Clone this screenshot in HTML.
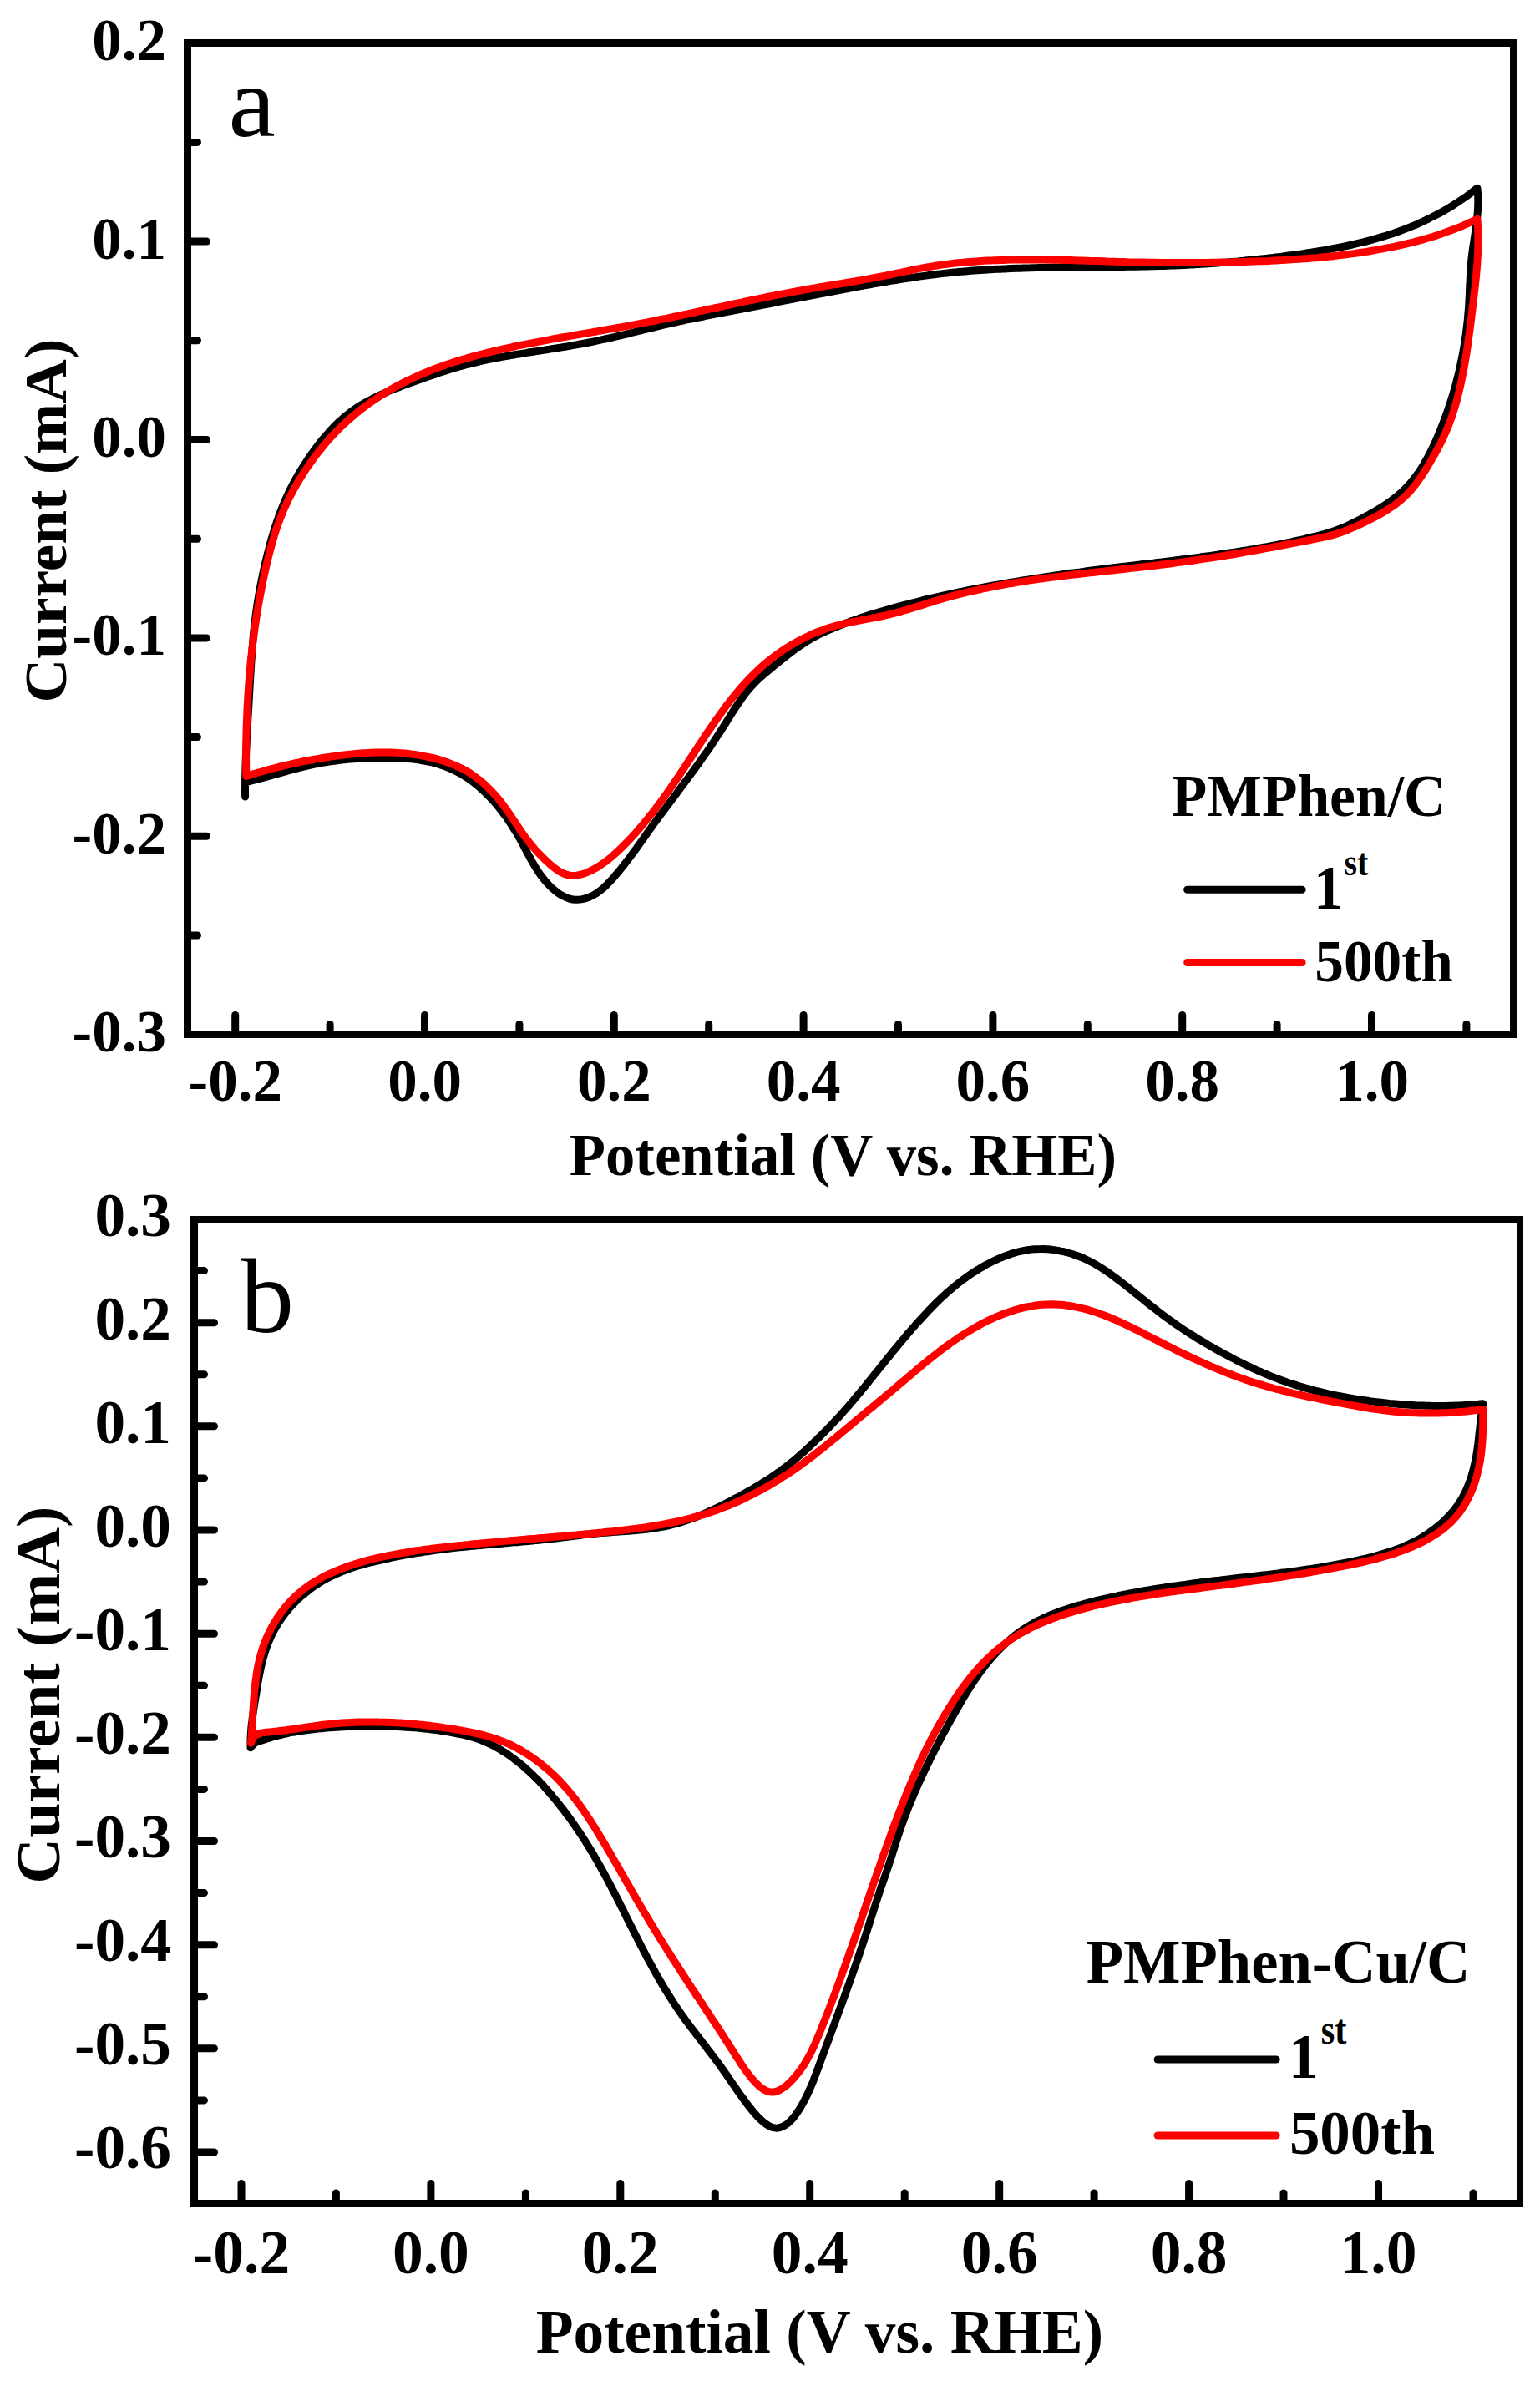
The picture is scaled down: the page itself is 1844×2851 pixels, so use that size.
<!DOCTYPE html><html><head><meta charset="utf-8"><title>CV curves</title><style>html,body{margin:0;padding:0;background:#fff;}svg{display:block;}text{font-family:'Liberation Serif','Times New Roman',serif;font-weight:bold;fill:#000;}text.r{font-weight:normal;}</style></head><body>
<svg width="1844" height="2851" viewBox="0 0 1844 2851">
<rect width="1844" height="2851" fill="#fff"/>
<g stroke="#000" stroke-width="9" stroke-linecap="round"><line x1="281.7" y1="1236" x2="281.7" y2="1215.5"/><line x1="395.1" y1="1236" x2="395.1" y2="1226.5"/><line x1="508.5" y1="1236" x2="508.5" y2="1215.5"/><line x1="621.9" y1="1236" x2="621.9" y2="1226.5"/><line x1="735.3" y1="1236" x2="735.3" y2="1215.5"/><line x1="848.7" y1="1236" x2="848.7" y2="1226.5"/><line x1="962.1" y1="1236" x2="962.1" y2="1215.5"/><line x1="1075.5" y1="1236" x2="1075.5" y2="1226.5"/><line x1="1188.9" y1="1236" x2="1188.9" y2="1215.5"/><line x1="1302.3" y1="1236" x2="1302.3" y2="1226.5"/><line x1="1415.7" y1="1236" x2="1415.7" y2="1215.5"/><line x1="1529.1" y1="1236" x2="1529.1" y2="1226.5"/><line x1="1642.5" y1="1236" x2="1642.5" y2="1215.5"/><line x1="1755.9" y1="1236" x2="1755.9" y2="1226.5"/><line x1="226" y1="1120.0" x2="236.5" y2="1120.0"/><line x1="226" y1="1001.3" x2="247.5" y2="1001.3"/><line x1="226" y1="882.6" x2="236.5" y2="882.6"/><line x1="226" y1="763.9" x2="247.5" y2="763.9"/><line x1="226" y1="645.2" x2="236.5" y2="645.2"/><line x1="226" y1="526.5" x2="247.5" y2="526.5"/><line x1="226" y1="407.8" x2="236.5" y2="407.8"/><line x1="226" y1="289.1" x2="247.5" y2="289.1"/><line x1="226" y1="170.4" x2="236.5" y2="170.4"/></g>
<path d="M220,47h1597v9h-1597z M220,1234h1597v9h-1597z M220,47h9v1196h-9z M1808,47h9v1196h-9z" fill="#000"/>
<text x="199" y="1259.2" text-anchor="end" font-size="71">-0.3</text><text x="199" y="1021.8" text-anchor="end" font-size="71">-0.2</text><text x="199" y="784.4" text-anchor="end" font-size="71">-0.1</text><text x="199" y="547.0" text-anchor="end" font-size="71">0.0</text><text x="199" y="309.6" text-anchor="end" font-size="71">0.1</text><text x="199" y="72.2" text-anchor="end" font-size="71">0.2</text><text x="281.7" y="1318" text-anchor="middle" font-size="71">-0.2</text><text x="508.5" y="1318" text-anchor="middle" font-size="71">0.0</text><text x="735.3" y="1318" text-anchor="middle" font-size="71">0.2</text><text x="962.1" y="1318" text-anchor="middle" font-size="71">0.4</text><text x="1188.9" y="1318" text-anchor="middle" font-size="71">0.6</text><text x="1415.7" y="1318" text-anchor="middle" font-size="71">0.8</text><text x="1642.5" y="1318" text-anchor="middle" font-size="71">1.0</text>
<text x="681.70" y="1407.00" font-size="72.20" textLength="655.31" lengthAdjust="spacingAndGlyphs">Potential (V vs. RHE)</text>
<text transform="translate(79.20,841.59) rotate(-90)" font-size="72.00" textLength="435.92" lengthAdjust="spacingAndGlyphs">Current (mA)</text>
<text class="r" x="273.46" y="162.60" font-size="121.10" textLength="56.30" lengthAdjust="spacingAndGlyphs">a</text>
<text x="1402.72" y="977.00" font-size="72.00" textLength="328.55" lengthAdjust="spacingAndGlyphs">PMPhen/C</text>
<text x="1573.32" y="1088.10" font-size="73.20" textLength="34.24" lengthAdjust="spacingAndGlyphs">1</text>
<text x="1609.61" y="1048.45" font-size="45.50" textLength="28.66" lengthAdjust="spacingAndGlyphs">st</text>
<text x="1574.23" y="1174.60" font-size="72.20" textLength="165.73" lengthAdjust="spacingAndGlyphs">500th</text>
<line x1="1421.7" y1="1065.3" x2="1559.1" y2="1065.3" stroke="#000" stroke-width="9" stroke-linecap="round"/>
<line x1="1421.7" y1="1152.5" x2="1559.1" y2="1152.5" stroke="#f00" stroke-width="9" stroke-linecap="round"/>
<path d="M293.6,954.0C293.6,952.7 293.5,948.7 293.5,946.0C293.5,943.3 293.6,940.6 293.6,938.0C293.6,935.3 293.6,932.6 293.7,930.0C293.7,927.3 293.8,924.6 293.9,922.0C294.0,919.3 294.0,916.6 294.1,913.9C294.2,911.3 294.3,908.6 294.4,905.9C294.6,903.3 294.7,900.6 294.8,897.9C294.9,895.3 295.1,892.6 295.2,889.9C295.3,887.3 295.5,884.6 295.6,881.9C295.8,879.3 295.9,876.6 296.1,873.9C296.2,871.2 296.4,868.6 296.6,865.9C296.7,863.2 296.9,860.6 297.0,857.9C297.2,855.2 297.4,852.6 297.5,849.9C297.7,847.2 297.8,844.6 298.0,841.9C298.1,839.2 298.3,836.6 298.4,833.9C298.6,831.2 298.7,828.6 298.9,825.9C299.0,823.2 299.2,820.6 299.3,817.9C299.5,815.3 299.7,812.6 299.8,809.9C300.0,807.3 300.1,804.6 300.3,801.9C300.5,799.3 300.6,796.6 300.8,793.9C301.0,791.3 301.2,788.6 301.4,786.0C301.6,783.3 301.8,780.6 302.0,778.0C302.2,775.3 302.4,772.7 302.6,770.0C302.8,767.4 303.1,764.7 303.3,762.0C303.6,759.4 303.9,756.7 304.1,754.1C304.4,751.4 304.7,748.8 305.0,746.1C305.3,743.5 305.6,740.8 306.0,738.2C306.3,735.5 306.7,732.9 307.1,730.2C307.4,727.6 307.8,724.9 308.2,722.3C308.6,719.6 309.1,717.0 309.5,714.4C310.0,711.7 310.4,709.1 310.9,706.4C311.4,703.8 311.9,701.2 312.4,698.6C312.9,695.9 313.4,693.3 314.0,690.7C314.5,688.1 315.1,685.4 315.7,682.8C316.2,680.2 316.8,677.6 317.4,675.0C318.1,672.4 318.7,669.8 319.3,667.2C320.0,664.6 320.6,662.0 321.3,659.4C322.0,656.9 322.6,654.3 323.3,651.7C324.0,649.1 324.8,646.6 325.5,644.0C326.3,641.5 327.0,638.9 327.8,636.4C328.6,633.8 329.4,631.3 330.2,628.8C331.0,626.3 331.9,623.7 332.8,621.2C333.7,618.7 334.6,616.2 335.5,613.8C336.4,611.3 337.4,608.8 338.4,606.3C339.4,603.9 340.4,601.4 341.5,599.0C342.5,596.6 343.6,594.1 344.8,591.7C345.9,589.3 347.1,586.9 348.3,584.5C349.5,582.1 350.7,579.8 352.0,577.4C353.2,575.0 354.6,572.7 355.9,570.4C357.2,568.1 358.6,565.7 360.0,563.4C361.4,561.1 362.8,558.9 364.3,556.6C365.8,554.3 367.3,552.1 368.8,549.8C370.3,547.6 371.8,545.4 373.4,543.2C374.9,541.0 376.5,538.8 378.1,536.6C379.7,534.5 381.4,532.3 383.0,530.2C384.7,528.1 386.4,526.0 388.1,524.0C389.8,521.9 391.6,519.9 393.4,517.9C395.1,515.9 396.9,514.0 398.8,512.0C400.6,510.1 402.5,508.3 404.4,506.4C406.4,504.6 408.3,502.8 410.3,501.1C412.3,499.3 414.3,497.6 416.4,496.0C418.5,494.4 420.6,492.8 422.8,491.3C424.9,489.7 427.1,488.3 429.3,486.8C431.6,485.4 433.8,484.0 436.1,482.7C438.4,481.4 440.8,480.1 443.1,478.9C445.5,477.6 447.9,476.4 450.3,475.3C452.7,474.1 455.1,473.0 457.5,471.9C460.0,470.8 462.4,469.7 464.9,468.7C467.4,467.6 469.9,466.6 472.4,465.6C474.9,464.7 477.4,463.7 479.9,462.7C482.5,461.8 485.0,460.8 487.5,459.9C490.0,459.0 492.6,458.1 495.1,457.2C497.7,456.3 500.2,455.4 502.7,454.5C505.3,453.6 507.8,452.7 510.3,451.8C512.8,450.9 515.4,450.0 517.9,449.2C520.4,448.3 523.0,447.4 525.5,446.6C528.0,445.7 530.5,444.9 533.1,444.1C535.6,443.3 538.2,442.5 540.7,441.7C543.2,440.9 545.8,440.2 548.4,439.4C550.9,438.7 553.5,438.0 556.0,437.3C558.6,436.6 561.2,436.0 563.8,435.3C566.3,434.7 568.9,434.1 571.5,433.5C574.1,432.9 576.7,432.3 579.3,431.7C581.9,431.2 584.5,430.6 587.1,430.1C589.7,429.6 592.3,429.0 595.0,428.5C597.6,428.0 600.2,427.6 602.8,427.1C605.5,426.6 608.1,426.1 610.7,425.7C613.3,425.2 616.0,424.8 618.6,424.4C621.2,423.9 623.9,423.5 626.5,423.1C629.2,422.7 631.8,422.2 634.4,421.8C637.1,421.4 639.7,421.0 642.4,420.6C645.0,420.2 647.7,419.8 650.3,419.4C653.0,419.0 655.6,418.6 658.2,418.1C660.9,417.7 663.5,417.3 666.2,416.9C668.8,416.5 671.5,416.1 674.1,415.6C676.7,415.2 679.4,414.8 682.0,414.3C684.6,413.9 687.3,413.4 689.9,412.9C692.5,412.5 695.2,412.0 697.8,411.5C700.4,411.0 703.0,410.5 705.7,410.0C708.3,409.5 710.9,409.0 713.5,408.4C716.1,407.9 718.7,407.3 721.3,406.7C723.9,406.2 726.5,405.6 729.1,405.0C731.7,404.4 734.3,403.8 736.9,403.2C739.5,402.6 742.1,402.0 744.7,401.3C747.3,400.7 749.9,400.1 752.5,399.5C755.1,398.8 757.7,398.2 760.3,397.5C762.9,396.9 765.4,396.3 768.0,395.6C770.6,395.0 773.2,394.3 775.8,393.7C778.4,393.1 781.0,392.4 783.6,391.8C786.2,391.2 788.8,390.5 791.4,389.9C794.0,389.3 796.6,388.7 799.2,388.1C801.8,387.5 804.4,386.9 807.0,386.3C809.6,385.7 812.2,385.1 814.8,384.6C817.4,384.0 820.0,383.5 822.6,382.9C825.3,382.4 827.9,381.9 830.5,381.3C833.1,380.8 835.7,380.3 838.4,379.8C841.0,379.3 843.6,378.7 846.2,378.2C848.9,377.7 851.5,377.2 854.1,376.7C856.8,376.2 859.4,375.7 862.0,375.2C864.6,374.7 867.3,374.2 869.9,373.7C872.5,373.2 875.1,372.7 877.8,372.2C880.4,371.7 883.0,371.2 885.6,370.7C888.2,370.1 890.9,369.6 893.5,369.1C896.1,368.6 898.7,368.1 901.3,367.6C904.0,367.1 906.6,366.6 909.2,366.1C911.8,365.5 914.4,365.0 917.1,364.5C919.7,364.0 922.3,363.5 924.9,363.0C927.5,362.5 930.2,362.0 932.8,361.4C935.4,360.9 938.0,360.4 940.6,359.9C943.2,359.4 945.9,358.9 948.5,358.4C951.1,357.9 953.7,357.3 956.3,356.8C959.0,356.3 961.6,355.8 964.2,355.3C966.8,354.8 969.4,354.3 972.0,353.8C974.7,353.3 977.3,352.8 979.9,352.3C982.5,351.8 985.1,351.3 987.8,350.8C990.4,350.3 993.0,349.8 995.6,349.3C998.3,348.8 1000.9,348.3 1003.5,347.8C1006.1,347.3 1008.8,346.8 1011.4,346.3C1014.0,345.8 1016.6,345.3 1019.3,344.8C1021.9,344.3 1024.5,343.9 1027.1,343.4C1029.8,342.9 1032.4,342.4 1035.0,341.9C1037.7,341.5 1040.3,341.0 1042.9,340.5C1045.6,340.1 1048.2,339.6 1050.8,339.1C1053.5,338.7 1056.1,338.2 1058.7,337.8C1061.4,337.3 1064.0,336.9 1066.7,336.4C1069.3,336.0 1071.9,335.6 1074.6,335.2C1077.2,334.7 1079.8,334.3 1082.5,333.9C1085.1,333.5 1087.8,333.1 1090.4,332.7C1093.1,332.3 1095.7,331.9 1098.4,331.5C1101.0,331.1 1103.6,330.8 1106.3,330.4C1108.9,330.0 1111.6,329.7 1114.2,329.3C1116.9,329.0 1119.5,328.7 1122.2,328.3C1124.8,328.0 1127.5,327.7 1130.1,327.4C1132.8,327.1 1135.4,326.8 1138.1,326.5C1140.8,326.2 1143.4,326.0 1146.1,325.7C1148.7,325.5 1151.4,325.2 1154.0,325.0C1156.7,324.8 1159.3,324.5 1162.0,324.3C1164.7,324.1 1167.3,323.9 1170.0,323.7C1172.6,323.5 1175.3,323.3 1178.0,323.2C1180.6,323.0 1183.3,322.8 1185.9,322.7C1188.6,322.5 1191.3,322.4 1193.9,322.3C1196.6,322.1 1199.3,322.0 1201.9,321.9C1204.6,321.8 1207.3,321.6 1209.9,321.5C1212.6,321.4 1215.3,321.3 1217.9,321.2C1220.6,321.2 1223.3,321.1 1225.9,321.0C1228.6,320.9 1231.3,320.8 1233.9,320.8C1236.6,320.7 1239.3,320.6 1241.9,320.6C1244.6,320.5 1247.3,320.5 1249.9,320.4C1252.6,320.4 1255.3,320.3 1258.0,320.3C1260.6,320.2 1263.3,320.2 1266.0,320.2C1268.6,320.1 1271.3,320.1 1274.0,320.1C1276.7,320.0 1279.3,320.0 1282.0,320.0C1284.7,320.0 1287.3,319.9 1290.0,319.9C1292.7,319.9 1295.4,319.9 1298.0,319.8C1300.7,319.8 1303.4,319.8 1306.1,319.8C1308.7,319.8 1311.4,319.7 1314.1,319.7C1316.7,319.7 1319.4,319.7 1322.1,319.7C1324.8,319.6 1327.4,319.6 1330.1,319.6C1332.8,319.6 1335.5,319.5 1338.1,319.5C1340.8,319.5 1343.5,319.5 1346.1,319.4C1348.8,319.4 1351.5,319.3 1354.2,319.3C1356.8,319.3 1359.5,319.2 1362.2,319.2C1364.8,319.1 1367.5,319.1 1370.2,319.0C1372.9,319.0 1375.5,318.9 1378.2,318.8C1380.9,318.8 1383.5,318.7 1386.2,318.6C1388.9,318.5 1391.6,318.5 1394.2,318.4C1396.9,318.3 1399.6,318.2 1402.2,318.1C1404.9,318.0 1407.6,317.9 1410.2,317.7C1412.9,317.6 1415.6,317.5 1418.2,317.4C1420.9,317.2 1423.6,317.1 1426.2,317.0C1428.9,316.8 1431.6,316.7 1434.2,316.5C1436.9,316.3 1439.6,316.2 1442.2,316.0C1444.9,315.8 1447.6,315.7 1450.2,315.5C1452.9,315.3 1455.6,315.1 1458.2,314.9C1460.9,314.7 1463.5,314.5 1466.2,314.3C1468.9,314.1 1471.5,313.8 1474.2,313.6C1476.8,313.4 1479.5,313.1 1482.2,312.9C1484.8,312.6 1487.5,312.4 1490.1,312.1C1492.8,311.9 1495.5,311.6 1498.1,311.3C1500.8,311.1 1503.4,310.8 1506.1,310.5C1508.7,310.2 1511.4,309.9 1514.0,309.6C1516.7,309.3 1519.4,309.0 1522.0,308.7C1524.7,308.4 1527.3,308.1 1530.0,307.7C1532.6,307.4 1535.3,307.1 1537.9,306.7C1540.6,306.4 1543.2,306.0 1545.9,305.6C1548.5,305.3 1551.2,304.9 1553.8,304.5C1556.4,304.2 1559.1,303.8 1561.7,303.4C1564.4,303.0 1567.0,302.6 1569.7,302.2C1572.3,301.8 1574.9,301.4 1577.6,300.9C1580.2,300.5 1582.9,300.1 1585.5,299.6C1588.1,299.1 1590.7,298.7 1593.4,298.2C1596.0,297.7 1598.6,297.2 1601.2,296.7C1603.9,296.2 1606.5,295.7 1609.1,295.1C1611.7,294.6 1614.3,294.1 1616.9,293.5C1619.5,292.9 1622.1,292.3 1624.7,291.7C1627.3,291.1 1629.9,290.5 1632.5,289.8C1635.1,289.2 1637.7,288.5 1640.2,287.8C1642.8,287.1 1645.4,286.4 1647.9,285.7C1650.5,285.0 1653.1,284.2 1655.6,283.4C1658.1,282.7 1660.7,281.9 1663.2,281.0C1665.8,280.2 1668.3,279.4 1670.8,278.5C1673.3,277.6 1675.8,276.7 1678.3,275.8C1680.8,274.9 1683.3,273.9 1685.8,272.9C1688.3,271.9 1690.8,270.9 1693.3,269.9C1695.7,268.8 1698.2,267.8 1700.6,266.7C1703.1,265.6 1705.5,264.5 1707.9,263.3C1710.3,262.1 1712.8,261.0 1715.1,259.7C1717.5,258.5 1719.9,257.3 1722.3,256.0C1724.6,254.8 1727.0,253.5 1729.3,252.1C1731.6,250.8 1733.9,249.5 1736.2,248.1C1738.5,246.7 1740.8,245.3 1743.0,243.8C1745.3,242.4 1747.5,240.9 1749.7,239.4C1751.9,237.9 1754.1,236.4 1756.3,234.9C1758.4,233.3 1760.6,231.7 1762.7,230.1C1764.8,228.5 1767.9,226.0 1768.9,225.2L1768.9,225.2C1769.0,226.5 1769.5,230.6 1769.6,233.2C1769.8,235.9 1769.8,238.6 1769.8,241.3C1769.8,243.9 1769.7,246.6 1769.6,249.3C1769.5,251.9 1769.3,254.6 1769.0,257.3C1768.8,259.9 1768.5,262.6 1768.2,265.2C1767.9,267.9 1767.5,270.5 1767.2,273.2C1766.8,275.8 1766.4,278.5 1766.0,281.1C1765.6,283.8 1765.2,286.4 1764.8,289.1C1764.4,291.7 1764.0,294.4 1763.6,297.0C1763.2,299.7 1762.9,302.3 1762.6,305.0C1762.2,307.6 1761.9,310.3 1761.7,312.9C1761.4,315.6 1761.2,318.2 1761.0,320.9C1760.8,323.5 1760.6,326.2 1760.5,328.8C1760.3,331.5 1760.2,334.2 1760.1,336.8C1759.9,339.5 1759.8,342.1 1759.7,344.8C1759.6,347.5 1759.5,350.1 1759.4,352.8C1759.2,355.4 1759.1,358.1 1759.0,360.8C1758.8,363.4 1758.7,366.1 1758.5,368.8C1758.3,371.4 1758.1,374.1 1757.8,376.8C1757.6,379.4 1757.4,382.1 1757.1,384.8C1756.8,387.4 1756.5,390.1 1756.2,392.8C1755.9,395.4 1755.5,398.1 1755.2,400.8C1754.8,403.4 1754.4,406.1 1754.0,408.7C1753.6,411.4 1753.2,414.0 1752.7,416.7C1752.3,419.3 1751.8,421.9 1751.3,424.6C1750.8,427.2 1750.3,429.8 1749.7,432.4C1749.2,435.1 1748.6,437.7 1748.1,440.3C1747.5,442.9 1746.9,445.5 1746.3,448.0C1745.6,450.6 1745.0,453.2 1744.3,455.8C1743.7,458.3 1743.0,460.9 1742.3,463.5C1741.5,466.0 1740.8,468.6 1740.1,471.1C1739.3,473.6 1738.5,476.2 1737.7,478.7C1736.9,481.2 1736.1,483.8 1735.3,486.3C1734.4,488.8 1733.6,491.3 1732.7,493.8C1731.8,496.3 1730.9,498.8 1730.0,501.3C1729.0,503.8 1728.1,506.3 1727.1,508.8C1726.1,511.3 1725.1,513.8 1724.1,516.3C1723.1,518.7 1722.1,521.2 1721.0,523.7C1719.9,526.2 1718.8,528.7 1717.7,531.1C1716.6,533.6 1715.4,536.0 1714.2,538.4C1713.0,540.9 1711.8,543.3 1710.6,545.7C1709.3,548.0 1708.0,550.4 1706.7,552.7C1705.4,555.1 1704.0,557.4 1702.6,559.6C1701.1,561.9 1699.7,564.1 1698.2,566.3C1696.6,568.5 1695.1,570.6 1693.5,572.7C1691.8,574.8 1690.2,576.9 1688.4,578.9C1686.7,580.9 1684.9,582.8 1683.1,584.7C1681.2,586.6 1679.3,588.4 1677.4,590.2C1675.4,592.0 1673.4,593.7 1671.3,595.4C1669.2,597.0 1667.1,598.6 1664.9,600.2C1662.8,601.7 1660.5,603.3 1658.3,604.7C1656.1,606.2 1653.8,607.6 1651.5,609.0C1649.2,610.4 1646.9,611.8 1644.5,613.1C1642.2,614.5 1639.8,615.8 1637.5,617.1C1635.1,618.3 1632.8,619.6 1630.4,620.9C1628.0,622.1 1625.7,623.3 1623.3,624.5C1620.9,625.7 1618.5,626.9 1616.1,628.0C1613.7,629.2 1611.3,630.3 1608.9,631.3C1606.5,632.3 1604.0,633.3 1601.5,634.3C1599.1,635.2 1596.6,636.1 1594.0,636.9C1591.5,637.7 1588.9,638.5 1586.4,639.2C1583.8,640.0 1581.2,640.6 1578.6,641.3C1576.0,642.0 1573.4,642.6 1570.8,643.2C1568.2,643.9 1565.6,644.5 1563.0,645.1C1560.4,645.7 1557.8,646.3 1555.2,646.9C1552.6,647.5 1549.9,648.0 1547.3,648.6C1544.7,649.1 1542.1,649.7 1539.5,650.2C1536.9,650.8 1534.2,651.3 1531.6,651.8C1529.0,652.3 1526.4,652.8 1523.7,653.3C1521.1,653.8 1518.5,654.3 1515.9,654.8C1513.2,655.3 1510.6,655.8 1508.0,656.2C1505.3,656.7 1502.7,657.1 1500.1,657.6C1497.5,658.0 1494.8,658.5 1492.2,658.9C1489.6,659.3 1486.9,659.8 1484.3,660.2C1481.6,660.6 1479.0,661.0 1476.4,661.4C1473.7,661.8 1471.1,662.2 1468.4,662.6C1465.8,663.0 1463.2,663.4 1460.5,663.8C1457.9,664.2 1455.2,664.5 1452.6,664.9C1450.0,665.3 1447.3,665.7 1444.7,666.0C1442.0,666.4 1439.4,666.7 1436.7,667.1C1434.1,667.4 1431.4,667.8 1428.8,668.1C1426.1,668.5 1423.5,668.8 1420.8,669.2C1418.2,669.5 1415.5,669.8 1412.9,670.2C1410.2,670.5 1407.6,670.8 1404.9,671.2C1402.3,671.5 1399.6,671.8 1397.0,672.1C1394.3,672.5 1391.7,672.8 1389.0,673.1C1386.4,673.4 1383.7,673.7 1381.1,674.1C1378.4,674.4 1375.8,674.7 1373.1,675.0C1370.5,675.3 1367.8,675.6 1365.2,676.0C1362.5,676.3 1359.9,676.6 1357.2,676.9C1354.6,677.2 1351.9,677.6 1349.3,677.9C1346.6,678.2 1343.9,678.5 1341.3,678.8C1338.6,679.2 1336.0,679.5 1333.3,679.8C1330.7,680.1 1328.0,680.5 1325.4,680.8C1322.7,681.1 1320.1,681.5 1317.4,681.8C1314.8,682.1 1312.1,682.5 1309.5,682.8C1306.8,683.1 1304.2,683.5 1301.5,683.8C1298.9,684.2 1296.2,684.5 1293.6,684.9C1291.0,685.2 1288.3,685.6 1285.7,685.9C1283.0,686.3 1280.4,686.7 1277.7,687.0C1275.1,687.4 1272.4,687.8 1269.8,688.1C1267.1,688.5 1264.5,688.9 1261.9,689.3C1259.2,689.7 1256.6,690.0 1253.9,690.4C1251.3,690.8 1248.7,691.2 1246.0,691.6C1243.4,692.0 1240.7,692.4 1238.1,692.8C1235.5,693.2 1232.8,693.7 1230.2,694.1C1227.5,694.5 1224.9,694.9 1222.3,695.3C1219.6,695.8 1217.0,696.2 1214.4,696.6C1211.7,697.1 1209.1,697.5 1206.5,698.0C1203.9,698.4 1201.2,698.9 1198.6,699.3C1196.0,699.8 1193.3,700.3 1190.7,700.7C1188.1,701.2 1185.5,701.7 1182.8,702.2C1180.2,702.7 1177.6,703.2 1175.0,703.7C1172.4,704.2 1169.7,704.7 1167.1,705.2C1164.5,705.7 1161.9,706.2 1159.3,706.7C1156.6,707.3 1154.0,707.8 1151.4,708.3C1148.8,708.9 1146.2,709.4 1143.6,710.0C1141.0,710.5 1138.4,711.1 1135.8,711.7C1133.1,712.2 1130.5,712.8 1127.9,713.4C1125.3,714.0 1122.7,714.6 1120.1,715.2C1117.5,715.8 1114.9,716.4 1112.3,717.0C1109.7,717.6 1107.1,718.2 1104.5,718.9C1101.9,719.5 1099.3,720.2 1096.8,720.8C1094.2,721.5 1091.6,722.1 1089.0,722.8C1086.4,723.5 1083.8,724.1 1081.2,724.8C1078.6,725.5 1076.1,726.2 1073.5,726.9C1070.9,727.6 1068.3,728.3 1065.7,729.1C1063.2,729.8 1060.6,730.5 1058.0,731.3C1055.4,732.0 1052.9,732.8 1050.3,733.5C1047.8,734.3 1045.2,735.1 1042.6,735.9C1040.1,736.7 1037.5,737.5 1035.0,738.4C1032.4,739.2 1029.9,740.0 1027.4,740.9C1024.9,741.8 1022.3,742.6 1019.8,743.5C1017.3,744.4 1014.8,745.4 1012.3,746.3C1009.8,747.2 1007.3,748.2 1004.8,749.2C1002.3,750.1 999.9,751.2 997.4,752.2C995.0,753.2 992.5,754.3 990.1,755.4C987.7,756.5 985.3,757.6 982.9,758.8C980.5,760.0 978.1,761.2 975.8,762.4C973.5,763.7 971.2,765.0 968.9,766.4C966.6,767.7 964.3,769.1 962.1,770.6C959.9,772.1 957.7,773.6 955.5,775.1C953.3,776.6 951.2,778.2 949.0,779.8C946.9,781.4 944.7,783.1 942.6,784.7C940.5,786.4 938.4,788.1 936.3,789.7C934.2,791.4 932.1,793.1 930.0,794.8C927.9,796.5 925.8,798.2 923.7,799.9C921.6,801.6 919.5,803.3 917.5,805.0C915.4,806.7 913.4,808.5 911.4,810.3C909.4,812.0 907.4,813.8 905.5,815.7C903.6,817.6 901.8,819.5 900.1,821.5C898.3,823.4 896.6,825.4 894.9,827.5C893.2,829.6 891.6,831.7 890.0,833.8C888.5,835.9 886.9,838.1 885.4,840.3C883.9,842.4 882.4,844.7 880.9,846.9C879.5,849.1 878.0,851.4 876.6,853.6C875.1,855.9 873.7,858.2 872.3,860.4C870.9,862.7 869.5,865.0 868.1,867.3C866.6,869.5 865.2,871.8 863.8,874.1C862.3,876.3 860.9,878.6 859.4,880.8C857.9,883.0 856.5,885.3 855.0,887.5C853.5,889.7 852.0,891.9 850.5,894.2C849.0,896.4 847.5,898.6 845.9,900.8C844.4,903.0 842.9,905.1 841.3,907.3C839.8,909.5 838.2,911.7 836.7,913.9C835.1,916.0 833.5,918.2 832.0,920.4C830.4,922.5 828.8,924.7 827.3,926.8C825.7,929.0 824.1,931.1 822.5,933.3C820.9,935.4 819.3,937.6 817.7,939.7C816.1,941.9 814.6,944.0 813.0,946.1C811.4,948.3 809.8,950.4 808.2,952.6C806.6,954.7 805.0,956.8 803.4,959.0C801.8,961.1 800.2,963.2 798.6,965.4C797.0,967.5 795.4,969.7 793.8,971.8C792.2,973.9 790.6,976.1 789.1,978.2C787.5,980.4 785.9,982.5 784.3,984.7C782.7,986.8 781.2,989.0 779.6,991.1C778.0,993.3 776.5,995.5 774.9,997.6C773.4,999.8 771.8,1002.0 770.3,1004.2C768.8,1006.3 767.2,1008.5 765.7,1010.7C764.1,1012.8 762.6,1015.0 761.0,1017.2C759.4,1019.3 757.9,1021.5 756.3,1023.6C754.7,1025.8 753.1,1027.9 751.5,1030.1C749.9,1032.2 748.3,1034.3 746.6,1036.4C744.9,1038.5 743.3,1040.6 741.6,1042.7C739.8,1044.7 738.1,1046.8 736.3,1048.8C734.6,1050.9 732.8,1052.9 730.9,1054.9C729.1,1056.8 727.2,1058.8 725.3,1060.7C723.3,1062.5 721.3,1064.4 719.2,1066.0C717.1,1067.7 714.9,1069.3 712.6,1070.7C710.3,1072.0 707.8,1073.3 705.3,1074.3C702.8,1075.3 700.1,1076.1 697.5,1076.6C694.9,1077.1 692.2,1077.4 689.6,1077.3C687.0,1077.2 684.4,1076.8 681.9,1076.1C679.3,1075.4 676.9,1074.3 674.5,1073.1C672.1,1071.9 669.8,1070.4 667.6,1068.8C665.3,1067.2 663.2,1065.3 661.1,1063.5C659.1,1061.6 657.1,1059.5 655.2,1057.5C653.4,1055.4 651.6,1053.3 650.0,1051.2C648.3,1049.1 646.7,1046.9 645.2,1044.7C643.7,1042.5 642.3,1040.3 640.9,1038.0C639.5,1035.8 638.2,1033.5 636.9,1031.3C635.6,1029.0 634.4,1026.7 633.2,1024.4C631.9,1022.1 630.7,1019.8 629.5,1017.4C628.2,1015.1 627.0,1012.8 625.8,1010.5C624.5,1008.1 623.3,1005.8 621.9,1003.5C620.6,1001.2 619.3,998.9 617.9,996.5C616.5,994.2 615.1,992.0 613.6,989.7C612.2,987.4 610.7,985.1 609.2,982.9C607.6,980.7 606.1,978.4 604.5,976.2C602.9,974.1 601.2,971.9 599.5,969.7C597.9,967.6 596.2,965.5 594.4,963.4C592.7,961.4 590.9,959.3 589.1,957.3C587.2,955.3 585.4,953.4 583.5,951.5C581.6,949.6 579.7,947.7 577.7,945.9C575.7,944.1 573.7,942.3 571.7,940.6C569.7,938.9 567.6,937.3 565.5,935.7C563.4,934.1 561.2,932.6 559.0,931.1C556.8,929.7 554.6,928.3 552.4,927.0C550.1,925.6 547.8,924.4 545.5,923.2C543.1,922.0 540.8,921.0 538.3,919.9C535.9,918.9 533.5,918.0 531.0,917.1C528.5,916.2 526.0,915.5 523.5,914.7C521.0,914.0 518.4,913.3 515.8,912.7C513.2,912.2 510.6,911.6 508.0,911.1C505.4,910.7 502.7,910.2 500.1,909.9C497.4,909.5 494.7,909.2 492.0,908.9C489.3,908.6 486.6,908.4 483.9,908.2C481.2,908.0 478.5,907.9 475.8,907.7C473.1,907.6 470.4,907.6 467.6,907.5C464.9,907.4 462.2,907.4 459.5,907.4C456.8,907.4 454.1,907.4 451.4,907.5C448.7,907.5 446.0,907.6 443.3,907.6C440.7,907.7 438.0,907.8 435.3,908.0C432.6,908.1 430.0,908.2 427.3,908.4C424.7,908.6 422.0,908.8 419.4,909.0C416.7,909.2 414.1,909.5 411.4,909.8C408.8,910.1 406.2,910.4 403.5,910.7C400.9,911.0 398.3,911.4 395.7,911.8C393.0,912.2 390.4,912.6 387.8,913.1C385.2,913.5 382.6,914.0 380.0,914.5C377.3,915.0 374.7,915.6 372.1,916.1C369.5,916.7 366.9,917.3 364.3,917.9C361.7,918.6 359.1,919.2 356.5,919.9C353.9,920.6 351.3,921.2 348.7,921.9C346.1,922.6 343.5,923.4 340.9,924.1C338.3,924.8 335.7,925.5 333.1,926.3C330.6,927.0 328.0,927.7 325.4,928.4C322.8,929.2 320.2,929.9 317.6,930.6C315.1,931.3 312.5,932.0 309.9,932.7C307.3,933.4 304.8,934.0 302.2,934.7C299.6,935.3 295.8,936.2 294.5,936.5" fill="none" stroke="#000" stroke-width="9" stroke-linejoin="round" stroke-linecap="round"/>
<path d="M294.8,929.5C294.8,928.2 294.7,924.1 294.7,921.5C294.7,918.8 294.7,916.1 294.6,913.4C294.6,910.8 294.6,908.1 294.6,905.4C294.6,902.7 294.7,900.1 294.7,897.4C294.7,894.7 294.7,892.0 294.8,889.3C294.8,886.7 294.9,884.0 294.9,881.3C295.0,878.6 295.1,876.0 295.1,873.3C295.2,870.6 295.3,867.9 295.4,865.2C295.5,862.6 295.6,859.9 295.7,857.2C295.8,854.5 295.9,851.9 296.0,849.2C296.2,846.5 296.3,843.8 296.5,841.2C296.6,838.5 296.8,835.8 296.9,833.1C297.1,830.5 297.3,827.8 297.5,825.1C297.6,822.5 297.8,819.8 298.0,817.1C298.2,814.4 298.5,811.8 298.7,809.1C298.9,806.4 299.1,803.8 299.4,801.1C299.6,798.4 299.9,795.8 300.2,793.1C300.4,790.4 300.7,787.8 301.0,785.1C301.3,782.5 301.6,779.8 301.9,777.1C302.2,774.5 302.5,771.8 302.8,769.2C303.2,766.5 303.5,763.9 303.9,761.2C304.2,758.6 304.6,755.9 304.9,753.3C305.3,750.6 305.7,748.0 306.1,745.3C306.5,742.7 306.9,740.0 307.3,737.4C307.7,734.7 308.2,732.1 308.6,729.4C309.0,726.8 309.5,724.2 310.0,721.5C310.4,718.9 310.9,716.3 311.4,713.6C311.9,711.0 312.4,708.4 312.9,705.7C313.4,703.1 313.9,700.5 314.4,697.9C315.0,695.2 315.5,692.6 316.1,690.0C316.6,687.4 317.2,684.8 317.8,682.2C318.4,679.6 319.0,676.9 319.6,674.3C320.2,671.7 320.9,669.1 321.5,666.5C322.2,663.9 322.8,661.4 323.5,658.8C324.2,656.2 324.9,653.6 325.6,651.0C326.3,648.5 327.1,645.9 327.8,643.3C328.6,640.8 329.4,638.2 330.2,635.7C331.1,633.1 331.9,630.6 332.8,628.1C333.7,625.6 334.6,623.1 335.6,620.6C336.6,618.1 337.6,615.6 338.6,613.1C339.6,610.7 340.7,608.2 341.8,605.8C342.9,603.4 344.1,600.9 345.3,598.5C346.4,596.1 347.6,593.7 348.9,591.4C350.1,589.0 351.4,586.6 352.7,584.3C354.0,582.0 355.3,579.6 356.7,577.3C358.1,575.0 359.4,572.7 360.9,570.5C362.3,568.2 363.7,565.9 365.2,563.7C366.7,561.5 368.2,559.2 369.7,557.0C371.2,554.8 372.8,552.7 374.3,550.5C375.9,548.3 377.5,546.2 379.1,544.1C380.8,541.9 382.4,539.8 384.1,537.8C385.8,535.7 387.5,533.6 389.2,531.6C391.0,529.6 392.7,527.5 394.5,525.6C396.3,523.6 398.1,521.6 399.9,519.7C401.8,517.7 403.6,515.8 405.5,513.9C407.4,512.0 409.3,510.2 411.3,508.3C413.2,506.5 415.2,504.7 417.2,502.9C419.2,501.1 421.2,499.4 423.2,497.6C425.3,495.9 427.4,494.2 429.5,492.5C431.6,490.9 433.7,489.2 435.8,487.6C438.0,486.0 440.1,484.4 442.3,482.9C444.5,481.3 446.7,479.8 448.9,478.3C451.2,476.8 453.4,475.3 455.7,473.9C457.9,472.4 460.2,471.0 462.5,469.6C464.8,468.2 467.1,466.9 469.5,465.5C471.8,464.2 474.2,462.9 476.5,461.6C478.9,460.4 481.3,459.1 483.6,457.9C486.0,456.7 488.4,455.5 490.9,454.4C493.3,453.2 495.7,452.1 498.1,451.0C500.6,449.9 503.0,448.8 505.5,447.7C507.9,446.7 510.4,445.7 512.9,444.7C515.3,443.7 517.8,442.7 520.3,441.7C522.8,440.8 525.3,439.9 527.8,439.0C530.3,438.1 532.9,437.2 535.4,436.3C537.9,435.4 540.5,434.6 543.0,433.8C545.5,433.0 548.1,432.2 550.6,431.4C553.2,430.6 555.8,429.8 558.3,429.1C560.9,428.3 563.5,427.6 566.0,426.9C568.6,426.2 571.2,425.5 573.8,424.8C576.4,424.1 579.0,423.5 581.6,422.8C584.2,422.2 586.8,421.5 589.4,420.9C592.0,420.3 594.6,419.7 597.2,419.1C599.8,418.5 602.4,417.9 605.0,417.3C607.6,416.7 610.2,416.1 612.9,415.6C615.5,415.0 618.1,414.5 620.7,413.9C623.3,413.4 626.0,412.9 628.6,412.3C631.2,411.8 633.8,411.3 636.5,410.8C639.1,410.3 641.7,409.8 644.3,409.3C647.0,408.8 649.6,408.3 652.2,407.8C654.9,407.3 657.5,406.8 660.1,406.3C662.8,405.9 665.4,405.4 668.0,404.9C670.7,404.5 673.3,404.0 675.9,403.5C678.6,403.1 681.2,402.6 683.9,402.1C686.5,401.7 689.1,401.2 691.8,400.8C694.4,400.3 697.0,399.9 699.7,399.4C702.3,399.0 705.0,398.5 707.6,398.1C710.2,397.6 712.9,397.1 715.5,396.7C718.2,396.2 720.8,395.8 723.4,395.3C726.1,394.9 728.7,394.4 731.3,393.9C734.0,393.5 736.6,393.0 739.3,392.5C741.9,392.1 744.5,391.6 747.2,391.1C749.8,390.6 752.4,390.2 755.1,389.7C757.7,389.2 760.3,388.7 763.0,388.2C765.6,387.7 768.2,387.2 770.8,386.7C773.5,386.2 776.1,385.6 778.7,385.1C781.4,384.6 784.0,384.1 786.6,383.5C789.2,383.0 791.9,382.5 794.5,381.9C797.1,381.4 799.7,380.9 802.4,380.3C805.0,379.8 807.6,379.2 810.2,378.7C812.8,378.1 815.5,377.6 818.1,377.0C820.7,376.4 823.3,375.9 825.9,375.3C828.6,374.8 831.2,374.2 833.8,373.6C836.4,373.1 839.0,372.5 841.7,371.9C844.3,371.4 846.9,370.8 849.5,370.2C852.1,369.7 854.8,369.1 857.4,368.5C860.0,368.0 862.6,367.4 865.2,366.8C867.8,366.3 870.5,365.7 873.1,365.1C875.7,364.6 878.3,364.0 880.9,363.5C883.6,362.9 886.2,362.3 888.8,361.8C891.4,361.2 894.0,360.7 896.6,360.1C899.3,359.6 901.9,359.0 904.5,358.5C907.1,357.9 909.7,357.4 912.4,356.8C915.0,356.3 917.6,355.8 920.2,355.2C922.9,354.7 925.5,354.2 928.1,353.7C930.7,353.1 933.3,352.6 936.0,352.1C938.6,351.6 941.2,351.1 943.8,350.6C946.5,350.1 949.1,349.6 951.7,349.1C954.4,348.6 957.0,348.1 959.6,347.7C962.2,347.2 964.9,346.7 967.5,346.3C970.1,345.8 972.8,345.3 975.4,344.9C978.0,344.4 980.7,344.0 983.3,343.5C985.9,343.1 988.6,342.7 991.2,342.2C993.8,341.8 996.5,341.4 999.1,340.9C1001.8,340.5 1004.4,340.1 1007.0,339.6C1009.7,339.2 1012.3,338.7 1015.0,338.3C1017.6,337.9 1020.2,337.4 1022.9,337.0C1025.5,336.5 1028.1,336.1 1030.8,335.6C1033.4,335.1 1036.1,334.7 1038.7,334.2C1041.3,333.7 1044.0,333.2 1046.6,332.7C1049.3,332.2 1051.9,331.7 1054.5,331.2C1057.2,330.7 1059.8,330.2 1062.4,329.6C1065.1,329.1 1067.7,328.5 1070.3,328.0C1073.0,327.4 1075.6,326.8 1078.3,326.3C1080.9,325.7 1083.5,325.1 1086.2,324.6C1088.8,324.0 1091.4,323.4 1094.1,322.9C1096.7,322.4 1099.3,321.8 1102.0,321.4C1104.6,320.9 1107.3,320.4 1109.9,319.9C1112.6,319.5 1115.2,319.0 1117.8,318.6C1120.5,318.2 1123.1,317.8 1125.8,317.4C1128.4,317.1 1131.1,316.7 1133.7,316.4C1136.4,316.0 1139.0,315.7 1141.7,315.4C1144.4,315.1 1147.0,314.8 1149.7,314.6C1152.3,314.3 1155.0,314.1 1157.6,313.8C1160.3,313.6 1163.0,313.4 1165.6,313.2C1168.3,313.0 1170.9,312.8 1173.6,312.6C1176.3,312.4 1178.9,312.3 1181.6,312.1C1184.3,312.0 1186.9,311.9 1189.6,311.8C1192.2,311.6 1194.9,311.5 1197.6,311.4C1200.3,311.4 1202.9,311.3 1205.6,311.2C1208.3,311.1 1210.9,311.1 1213.6,311.0C1216.3,311.0 1218.9,311.0 1221.6,310.9C1224.3,310.9 1227.0,310.9 1229.6,310.9C1232.3,310.9 1235.0,310.9 1237.7,310.9C1240.3,310.9 1243.0,310.9 1245.7,310.9C1248.4,311.0 1251.0,311.0 1253.7,311.0C1256.4,311.1 1259.1,311.1 1261.7,311.2C1264.4,311.2 1267.1,311.3 1269.8,311.3C1272.4,311.4 1275.1,311.4 1277.8,311.5C1280.5,311.6 1283.2,311.6 1285.8,311.7C1288.5,311.8 1291.2,311.9 1293.9,311.9C1296.5,312.0 1299.2,312.1 1301.9,312.2C1304.6,312.3 1307.3,312.4 1309.9,312.4C1312.6,312.5 1315.3,312.6 1318.0,312.7C1320.7,312.8 1323.3,312.9 1326.0,313.0C1328.7,313.0 1331.4,313.1 1334.0,313.2C1336.7,313.3 1339.4,313.4 1342.1,313.4C1344.8,313.5 1347.4,313.6 1350.1,313.7C1352.8,313.7 1355.5,313.8 1358.1,313.9C1360.8,313.9 1363.5,314.0 1366.2,314.0C1368.9,314.1 1371.5,314.1 1374.2,314.2C1376.9,314.2 1379.6,314.3 1382.2,314.3C1384.9,314.4 1387.6,314.4 1390.3,314.4C1392.9,314.4 1395.6,314.5 1398.3,314.5C1401.0,314.5 1403.6,314.5 1406.3,314.5C1409.0,314.6 1411.7,314.6 1414.3,314.6C1417.0,314.6 1419.7,314.6 1422.3,314.6C1425.0,314.6 1427.7,314.5 1430.4,314.5C1433.0,314.5 1435.7,314.5 1438.4,314.5C1441.1,314.5 1443.7,314.4 1446.4,314.4C1449.1,314.4 1451.8,314.3 1454.4,314.3C1457.1,314.2 1459.8,314.2 1462.5,314.1C1465.1,314.1 1467.8,314.0 1470.5,314.0C1473.2,313.9 1475.8,313.9 1478.5,313.8C1481.2,313.7 1483.9,313.6 1486.5,313.6C1489.2,313.5 1491.9,313.4 1494.6,313.3C1497.2,313.2 1499.9,313.1 1502.6,313.0C1505.3,312.9 1507.9,312.8 1510.6,312.7C1513.3,312.6 1516.0,312.5 1518.6,312.4C1521.3,312.2 1524.0,312.1 1526.7,312.0C1529.4,311.9 1532.0,311.7 1534.7,311.6C1537.4,311.4 1540.1,311.3 1542.7,311.1C1545.4,310.9 1548.1,310.8 1550.8,310.6C1553.4,310.4 1556.1,310.2 1558.8,310.0C1561.5,309.8 1564.1,309.6 1566.8,309.4C1569.5,309.2 1572.1,309.0 1574.8,308.8C1577.5,308.5 1580.1,308.3 1582.8,308.0C1585.5,307.8 1588.1,307.5 1590.8,307.2C1593.5,307.0 1596.1,306.7 1598.8,306.4C1601.5,306.1 1604.1,305.8 1606.8,305.4C1609.4,305.1 1612.1,304.8 1614.8,304.4C1617.4,304.1 1620.1,303.7 1622.7,303.4C1625.4,303.0 1628.0,302.6 1630.7,302.2C1633.3,301.8 1636.0,301.4 1638.6,301.0C1641.2,300.5 1643.9,300.1 1646.5,299.6C1649.2,299.2 1651.8,298.7 1654.4,298.2C1657.1,297.7 1659.7,297.2 1662.3,296.7C1665.0,296.2 1667.6,295.6 1670.2,295.1C1672.8,294.5 1675.5,293.9 1678.1,293.3C1680.7,292.8 1683.3,292.1 1685.9,291.5C1688.5,290.9 1691.1,290.2 1693.7,289.6C1696.3,288.9 1698.9,288.2 1701.5,287.5C1704.0,286.8 1706.6,286.1 1709.2,285.3C1711.7,284.5 1714.3,283.8 1716.9,283.0C1719.4,282.2 1721.9,281.3 1724.5,280.5C1727.0,279.6 1729.5,278.7 1732.0,277.8C1734.6,276.9 1737.1,276.0 1739.6,275.0C1742.0,274.1 1744.5,273.1 1747.0,272.1C1749.5,271.1 1751.9,270.0 1754.4,269.0C1756.8,267.9 1759.3,266.8 1761.7,265.7C1764.1,264.5 1767.7,262.8 1768.9,262.2L1768.9,262.2C1769.0,263.5 1769.3,267.5 1769.5,270.2C1769.6,272.9 1769.7,275.5 1769.8,278.2C1769.8,280.8 1769.9,283.5 1769.9,286.2C1769.9,288.8 1769.9,291.5 1769.8,294.2C1769.8,296.8 1769.7,299.5 1769.6,302.2C1769.4,304.8 1769.3,307.5 1769.1,310.2C1769.0,312.8 1768.8,315.5 1768.6,318.1C1768.4,320.8 1768.2,323.5 1767.9,326.1C1767.7,328.8 1767.5,331.4 1767.2,334.1C1766.9,336.8 1766.6,339.4 1766.3,342.1C1766.1,344.7 1765.8,347.4 1765.4,350.1C1765.1,352.7 1764.8,355.4 1764.5,358.0C1764.2,360.7 1763.9,363.3 1763.5,366.0C1763.2,368.6 1762.9,371.3 1762.6,373.9C1762.2,376.6 1761.9,379.2 1761.6,381.9C1761.3,384.5 1760.9,387.2 1760.6,389.8C1760.3,392.5 1759.9,395.1 1759.6,397.7C1759.2,400.4 1758.9,403.0 1758.5,405.7C1758.1,408.3 1757.8,410.9 1757.4,413.6C1757.0,416.2 1756.6,418.8 1756.2,421.5C1755.8,424.1 1755.4,426.7 1754.9,429.4C1754.5,432.0 1754.0,434.6 1753.6,437.3C1753.1,439.9 1752.6,442.5 1752.1,445.1C1751.6,447.8 1751.1,450.4 1750.6,453.0C1750.1,455.6 1749.5,458.2 1748.9,460.8C1748.3,463.4 1747.7,466.1 1747.1,468.6C1746.5,471.2 1745.8,473.8 1745.2,476.4C1744.5,479.0 1743.8,481.6 1743.0,484.1C1742.3,486.7 1741.5,489.3 1740.7,491.8C1739.9,494.3 1739.1,496.9 1738.2,499.4C1737.3,501.9 1736.4,504.4 1735.5,506.9C1734.5,509.4 1733.6,511.9 1732.5,514.3C1731.5,516.8 1730.4,519.2 1729.3,521.6C1728.2,524.1 1727.1,526.5 1725.9,528.9C1724.7,531.2 1723.5,533.6 1722.2,536.0C1721.0,538.3 1719.7,540.7 1718.4,543.0C1717.1,545.4 1715.8,547.7 1714.4,550.0C1713.1,552.3 1711.7,554.6 1710.4,556.9C1709.0,559.2 1707.6,561.5 1706.2,563.8C1704.7,566.1 1703.3,568.3 1701.8,570.5C1700.3,572.7 1698.8,574.9 1697.2,577.1C1695.7,579.2 1694.1,581.3 1692.4,583.4C1690.7,585.4 1689.0,587.4 1687.2,589.4C1685.4,591.3 1683.5,593.2 1681.6,595.0C1679.7,596.8 1677.7,598.5 1675.6,600.2C1673.5,601.9 1671.4,603.5 1669.3,605.1C1667.1,606.6 1664.9,608.1 1662.6,609.6C1660.3,611.0 1658.0,612.5 1655.7,613.8C1653.4,615.2 1651.0,616.5 1648.7,617.8C1646.3,619.1 1643.9,620.4 1641.5,621.6C1639.1,622.8 1636.6,624.0 1634.2,625.2C1631.8,626.4 1629.4,627.5 1627.0,628.7C1624.6,629.8 1622.2,630.9 1619.7,632.0C1617.3,633.0 1614.9,634.0 1612.4,635.0C1610.0,636.0 1607.5,636.9 1605.0,637.8C1602.5,638.6 1600.0,639.4 1597.5,640.1C1594.9,640.8 1592.3,641.5 1589.8,642.1C1587.2,642.7 1584.5,643.3 1581.9,643.8C1579.3,644.4 1576.7,644.9 1574.1,645.4C1571.4,646.0 1568.8,646.5 1566.2,647.0C1563.6,647.6 1560.9,648.1 1558.3,648.6C1555.7,649.1 1553.1,649.7 1550.5,650.2C1547.8,650.7 1545.2,651.2 1542.6,651.7C1540.0,652.2 1537.3,652.7 1534.7,653.2C1532.1,653.7 1529.5,654.2 1526.9,654.7C1524.2,655.2 1521.6,655.7 1519.0,656.2C1516.4,656.7 1513.7,657.2 1511.1,657.6C1508.5,658.1 1505.9,658.6 1503.3,659.1C1500.6,659.5 1498.0,660.0 1495.4,660.4C1492.8,660.9 1490.1,661.4 1487.5,661.8C1484.9,662.3 1482.2,662.7 1479.6,663.2C1477.0,663.6 1474.4,664.0 1471.7,664.5C1469.1,664.9 1466.5,665.3 1463.9,665.8C1461.2,666.2 1458.6,666.6 1456.0,667.0C1453.3,667.4 1450.7,667.8 1448.1,668.2C1445.4,668.7 1442.8,669.1 1440.2,669.4C1437.5,669.8 1434.9,670.2 1432.3,670.6C1429.6,671.0 1427.0,671.4 1424.3,671.8C1421.7,672.1 1419.1,672.5 1416.4,672.9C1413.8,673.2 1411.1,673.6 1408.5,673.9C1405.9,674.3 1403.2,674.6 1400.6,675.0C1397.9,675.3 1395.3,675.7 1392.6,676.0C1390.0,676.3 1387.3,676.6 1384.7,677.0C1382.0,677.3 1379.4,677.6 1376.7,677.9C1374.1,678.2 1371.4,678.5 1368.8,678.8C1366.1,679.1 1363.4,679.4 1360.8,679.7C1358.1,680.0 1355.5,680.3 1352.8,680.6C1350.2,680.9 1347.5,681.2 1344.8,681.5C1342.2,681.8 1339.5,682.1 1336.9,682.4C1334.2,682.7 1331.6,683.0 1328.9,683.2C1326.2,683.5 1323.6,683.8 1320.9,684.1C1318.3,684.4 1315.6,684.7 1312.9,685.0C1310.3,685.3 1307.6,685.6 1305.0,685.9C1302.3,686.2 1299.7,686.5 1297.0,686.8C1294.3,687.1 1291.7,687.4 1289.0,687.7C1286.4,688.0 1283.7,688.3 1281.1,688.6C1278.4,688.9 1275.8,689.3 1273.1,689.6C1270.5,689.9 1267.8,690.2 1265.2,690.6C1262.5,690.9 1259.9,691.3 1257.2,691.6C1254.6,692.0 1251.9,692.3 1249.3,692.7C1246.6,693.0 1244.0,693.4 1241.3,693.8C1238.7,694.2 1236.1,694.5 1233.4,694.9C1230.8,695.3 1228.2,695.7 1225.5,696.1C1222.9,696.6 1220.3,697.0 1217.6,697.4C1215.0,697.8 1212.4,698.3 1209.7,698.7C1207.1,699.2 1204.5,699.6 1201.9,700.1C1199.3,700.6 1196.6,701.1 1194.0,701.6C1191.4,702.1 1188.8,702.6 1186.2,703.1C1183.6,703.6 1181.0,704.1 1178.4,704.7C1175.8,705.2 1173.2,705.8 1170.6,706.3C1168.0,706.9 1165.4,707.5 1162.8,708.1C1160.2,708.7 1157.6,709.3 1155.0,709.9C1152.4,710.6 1149.8,711.2 1147.2,711.9C1144.7,712.5 1142.1,713.2 1139.5,713.9C1136.9,714.6 1134.4,715.3 1131.8,716.0C1129.2,716.8 1126.7,717.5 1124.1,718.3C1121.6,719.0 1119.0,719.8 1116.5,720.6C1113.9,721.4 1111.4,722.2 1108.8,723.0C1106.3,723.8 1103.7,724.6 1101.2,725.4C1098.6,726.2 1096.0,727.0 1093.5,727.7C1090.9,728.5 1088.4,729.3 1085.8,730.1C1083.3,730.8 1080.7,731.6 1078.1,732.3C1075.6,733.0 1073.0,733.7 1070.4,734.4C1067.8,735.0 1065.2,735.7 1062.6,736.3C1060.0,736.9 1057.4,737.5 1054.8,738.0C1052.2,738.6 1049.6,739.1 1047.0,739.6C1044.4,740.1 1041.7,740.6 1039.1,741.1C1036.5,741.6 1033.9,742.1 1031.2,742.6C1028.6,743.1 1026.0,743.6 1023.4,744.1C1020.8,744.6 1018.2,745.1 1015.6,745.7C1013.0,746.3 1010.4,746.8 1007.8,747.5C1005.2,748.1 1002.6,748.8 1000.1,749.5C997.5,750.2 994.9,751.0 992.4,751.8C989.9,752.6 987.4,753.5 984.9,754.4C982.3,755.3 979.9,756.3 977.4,757.3C974.9,758.3 972.5,759.4 970.0,760.5C967.6,761.6 965.2,762.7 962.8,763.9C960.4,765.1 958.0,766.3 955.7,767.6C953.3,768.9 951.0,770.2 948.7,771.6C946.4,772.9 944.1,774.3 941.8,775.8C939.6,777.2 937.3,778.7 935.1,780.2C932.9,781.7 930.7,783.3 928.6,784.9C926.5,786.5 924.3,788.1 922.2,789.7C920.2,791.4 918.1,793.1 916.1,794.8C914.0,796.5 912.0,798.3 910.1,800.1C908.1,801.9 906.2,803.7 904.3,805.5C902.4,807.4 900.5,809.3 898.6,811.2C896.8,813.1 894.9,815.0 893.1,817.0C891.3,818.9 889.6,820.9 887.8,822.9C886.1,824.9 884.3,826.9 882.6,829.0C880.9,831.0 879.2,833.1 877.5,835.1C875.9,837.2 874.2,839.3 872.6,841.4C871.0,843.5 869.3,845.7 867.7,847.8C866.1,850.0 864.6,852.1 863.0,854.3C861.4,856.5 859.9,858.6 858.3,860.8C856.8,863.0 855.2,865.2 853.7,867.4C852.2,869.6 850.7,871.9 849.2,874.1C847.7,876.3 846.2,878.5 844.7,880.8C843.2,883.0 841.7,885.2 840.3,887.4C838.8,889.7 837.3,891.9 835.8,894.1C834.4,896.4 832.9,898.6 831.5,900.8C830.0,903.1 828.5,905.3 827.1,907.5C825.6,909.8 824.1,912.0 822.7,914.2C821.2,916.4 819.7,918.6 818.3,920.9C816.8,923.1 815.3,925.3 813.9,927.5C812.4,929.7 810.9,931.9 809.4,934.1C807.9,936.3 806.4,938.5 804.9,940.6C803.4,942.8 801.9,945.0 800.4,947.2C798.8,949.3 797.3,951.5 795.8,953.6C794.2,955.8 792.7,957.9 791.1,960.1C789.5,962.2 787.9,964.3 786.3,966.5C784.7,968.6 783.1,970.7 781.5,972.8C779.8,974.9 778.2,977.0 776.5,979.0C774.9,981.1 773.2,983.2 771.5,985.2C769.8,987.3 768.0,989.3 766.3,991.3C764.6,993.4 762.8,995.4 761.0,997.4C759.2,999.4 757.4,1001.4 755.6,1003.4C753.7,1005.3 751.9,1007.3 750.0,1009.2C748.1,1011.2 746.2,1013.1 744.2,1015.0C742.3,1016.9 740.3,1018.8 738.3,1020.7C736.3,1022.5 734.2,1024.3 732.1,1026.1C730.1,1027.8 728.0,1029.5 725.8,1031.2C723.6,1032.8 721.4,1034.4 719.2,1035.9C716.9,1037.3 714.7,1038.7 712.3,1040.0C710.0,1041.3 707.6,1042.6 705.1,1043.7C702.7,1044.7 700.2,1045.8 697.7,1046.5C695.1,1047.3 692.5,1048.0 690.0,1048.3C687.5,1048.5 684.9,1048.5 682.4,1048.2C679.9,1047.8 677.4,1047.0 675.0,1046.0C672.6,1045.1 670.3,1043.7 668.0,1042.3C665.8,1040.8 663.5,1039.0 661.4,1037.3C659.2,1035.5 657.1,1033.5 655.1,1031.6C653.0,1029.7 651.0,1027.8 649.1,1025.8C647.1,1023.9 645.2,1022.0 643.4,1020.0C641.5,1018.0 639.7,1016.1 638.0,1014.0C636.3,1012.0 634.6,1009.9 633.0,1007.8C631.3,1005.8 629.8,1003.6 628.2,1001.5C626.7,999.3 625.2,997.2 623.7,995.0C622.2,992.8 620.8,990.6 619.3,988.4C617.8,986.2 616.4,984.0 614.9,981.8C613.5,979.6 612.0,977.4 610.5,975.2C609.0,973.0 607.5,970.8 606.0,968.6C604.4,966.5 602.8,964.3 601.2,962.2C599.6,960.1 597.9,958.0 596.2,955.9C594.4,953.9 592.7,951.8 590.9,949.9C589.1,947.9 587.2,945.9 585.3,944.1C583.4,942.2 581.4,940.3 579.5,938.5C577.5,936.8 575.4,935.0 573.3,933.4C571.2,931.7 569.1,930.1 566.9,928.6C564.7,927.1 562.5,925.6 560.2,924.2C557.9,922.9 555.6,921.6 553.2,920.3C550.9,919.1 548.4,918.0 546.0,916.9C543.5,915.8 541.0,914.8 538.5,913.9C536.0,912.9 533.5,912.0 530.9,911.2C528.4,910.4 525.8,909.6 523.2,908.9C520.6,908.2 518.0,907.6 515.4,907.0C512.8,906.4 510.1,905.8 507.5,905.3C504.9,904.8 502.2,904.4 499.6,903.9C497.0,903.5 494.3,903.2 491.7,902.9C489.1,902.5 486.4,902.3 483.8,902.0C481.1,901.8 478.4,901.6 475.8,901.4C473.1,901.3 470.5,901.2 467.8,901.1C465.1,901.0 462.5,901.0 459.8,901.0C457.2,900.9 454.5,901.0 451.8,901.0C449.2,901.1 446.5,901.2 443.8,901.3C441.2,901.4 438.5,901.6 435.8,901.7C433.2,901.9 430.5,902.1 427.8,902.3C425.2,902.6 422.5,902.8 419.8,903.1C417.2,903.4 414.5,903.7 411.9,904.0C409.2,904.3 406.6,904.6 403.9,905.0C401.3,905.3 398.6,905.7 396.0,906.1C393.3,906.5 390.7,906.9 388.0,907.3C385.4,907.7 382.8,908.1 380.2,908.6C377.5,909.1 374.9,909.5 372.3,910.0C369.7,910.5 367.0,911.0 364.4,911.5C361.8,912.0 359.2,912.6 356.6,913.1C354.0,913.7 351.4,914.2 348.8,914.8C346.2,915.4 343.6,916.0 341.0,916.6C338.4,917.2 335.8,917.9 333.3,918.5C330.7,919.2 328.1,919.8 325.5,920.5C322.9,921.2 320.4,921.9 317.8,922.6C315.2,923.3 312.7,924.1 310.1,924.8C307.6,925.6 305.0,926.3 302.4,927.1C299.9,927.9 296.1,929.1 294.8,929.5" fill="none" stroke="#f00" stroke-width="9" stroke-linejoin="round" stroke-linecap="round"/>
<g stroke="#000" stroke-width="9" stroke-linecap="round"><line x1="289.0" y1="2636" x2="289.0" y2="2614.5"/><line x1="402.4" y1="2636" x2="402.4" y2="2626"/><line x1="515.9" y1="2636" x2="515.9" y2="2614.5"/><line x1="629.4" y1="2636" x2="629.4" y2="2626"/><line x1="742.8" y1="2636" x2="742.8" y2="2614.5"/><line x1="856.3" y1="2636" x2="856.3" y2="2626"/><line x1="969.7" y1="2636" x2="969.7" y2="2614.5"/><line x1="1083.2" y1="2636" x2="1083.2" y2="2626"/><line x1="1196.7" y1="2636" x2="1196.7" y2="2614.5"/><line x1="1310.1" y1="2636" x2="1310.1" y2="2626"/><line x1="1423.6" y1="2636" x2="1423.6" y2="2614.5"/><line x1="1537.0" y1="2636" x2="1537.0" y2="2626"/><line x1="1650.5" y1="2636" x2="1650.5" y2="2614.5"/><line x1="1764.0" y1="2636" x2="1764.0" y2="2626"/><line x1="234" y1="2577.0" x2="256.5" y2="2577.0"/><line x1="234" y1="2514.9" x2="244.5" y2="2514.9"/><line x1="234" y1="2452.8" x2="256.5" y2="2452.8"/><line x1="234" y1="2390.8" x2="244.5" y2="2390.8"/><line x1="234" y1="2328.7" x2="256.5" y2="2328.7"/><line x1="234" y1="2266.6" x2="244.5" y2="2266.6"/><line x1="234" y1="2204.5" x2="256.5" y2="2204.5"/><line x1="234" y1="2142.4" x2="244.5" y2="2142.4"/><line x1="234" y1="2080.3" x2="256.5" y2="2080.3"/><line x1="234" y1="2018.3" x2="244.5" y2="2018.3"/><line x1="234" y1="1956.2" x2="256.5" y2="1956.2"/><line x1="234" y1="1894.1" x2="244.5" y2="1894.1"/><line x1="234" y1="1832.0" x2="256.5" y2="1832.0"/><line x1="234" y1="1769.9" x2="244.5" y2="1769.9"/><line x1="234" y1="1707.8" x2="256.5" y2="1707.8"/><line x1="234" y1="1645.7" x2="244.5" y2="1645.7"/><line x1="234" y1="1583.7" x2="256.5" y2="1583.7"/><line x1="234" y1="1521.6" x2="244.5" y2="1521.6"/></g>
<path d="M227,1456h1597v8h-1597z M227,2634h1597v9h-1597z M227,1456h10v1187h-10z M1816,1456h8v1187h-8z" fill="#000"/>
<text x="205" y="2596.4" text-anchor="end" font-size="73.3">-0.6</text><text x="205" y="2472.4" text-anchor="end" font-size="73.3">-0.5</text><text x="205" y="2348.4" text-anchor="end" font-size="73.3">-0.4</text><text x="205" y="2224.4" text-anchor="end" font-size="73.3">-0.3</text><text x="205" y="2100.4" text-anchor="end" font-size="73.3">-0.2</text><text x="205" y="1976.3" text-anchor="end" font-size="73.3">-0.1</text><text x="205" y="1852.3" text-anchor="end" font-size="73.3">0.0</text><text x="205" y="1728.3" text-anchor="end" font-size="73.3">0.1</text><text x="205" y="1604.3" text-anchor="end" font-size="73.3">0.2</text><text x="205" y="1480.3" text-anchor="end" font-size="73.3">0.3</text><text x="289.0" y="2722" text-anchor="middle" font-size="73.5">-0.2</text><text x="515.9" y="2722" text-anchor="middle" font-size="73.5">0.0</text><text x="742.8" y="2722" text-anchor="middle" font-size="73.5">0.2</text><text x="969.7" y="2722" text-anchor="middle" font-size="73.5">0.4</text><text x="1196.7" y="2722" text-anchor="middle" font-size="73.5">0.6</text><text x="1423.6" y="2722" text-anchor="middle" font-size="73.5">0.8</text><text x="1650.5" y="2722" text-anchor="middle" font-size="73.5">1.0</text>
<text x="641.65" y="2817.00" font-size="73.60" textLength="679.56" lengthAdjust="spacingAndGlyphs">Potential (V vs. RHE)</text>
<text transform="translate(71.30,2255.72) rotate(-90)" font-size="74.00" textLength="452.08" lengthAdjust="spacingAndGlyphs">Current (mA)</text>
<text class="r" x="287.90" y="1594.70" font-size="128.00" textLength="64.07" lengthAdjust="spacingAndGlyphs">b</text>
<text x="1300.67" y="2374.00" font-size="73.40" textLength="459.75" lengthAdjust="spacingAndGlyphs">PMPhen-Cu/C</text>
<text x="1543.08" y="2487.90" font-size="75.90" textLength="35.73" lengthAdjust="spacingAndGlyphs">1</text>
<text x="1581.63" y="2447.40" font-size="50.80" textLength="30.65" lengthAdjust="spacingAndGlyphs">st</text>
<text x="1543.88" y="2578.60" font-size="74.00" textLength="174.33" lengthAdjust="spacingAndGlyphs">500th</text>
<line x1="1386.1" y1="2466" x2="1528.1" y2="2466" stroke="#000" stroke-width="9" stroke-linecap="round"/>
<line x1="1386.1" y1="2557" x2="1528.1" y2="2557" stroke="#f00" stroke-width="9" stroke-linecap="round"/>
<path d="M300.0,2092.7C300.0,2091.4 299.9,2087.4 300.0,2084.7C300.0,2082.0 300.1,2079.4 300.3,2076.7C300.4,2074.0 300.7,2071.4 300.9,2068.8C301.1,2066.1 301.4,2063.5 301.8,2060.8C302.1,2058.2 302.4,2055.5 302.8,2052.9C303.2,2050.2 303.6,2047.6 304.0,2045.0C304.4,2042.3 304.8,2039.7 305.3,2037.0C305.7,2034.4 306.1,2031.8 306.6,2029.1C307.0,2026.5 307.4,2023.8 307.9,2021.1C308.3,2018.5 308.7,2015.8 309.2,2013.2C309.7,2010.6 310.1,2007.9 310.6,2005.3C311.1,2002.6 311.7,2000.0 312.3,1997.4C312.8,1994.8 313.4,1992.2 314.1,1989.6C314.7,1987.0 315.4,1984.4 316.2,1981.9C316.9,1979.3 317.7,1976.8 318.6,1974.3C319.5,1971.7 320.4,1969.2 321.4,1966.8C322.4,1964.3 323.5,1961.9 324.6,1959.4C325.7,1957.0 326.9,1954.6 328.2,1952.3C329.4,1949.9 330.8,1947.6 332.1,1945.4C333.5,1943.1 335.0,1940.8 336.5,1938.6C338.0,1936.5 339.6,1934.3 341.2,1932.2C342.9,1930.1 344.6,1928.0 346.3,1926.0C348.1,1924.0 349.9,1922.0 351.8,1920.1C353.7,1918.1 355.6,1916.3 357.5,1914.4C359.5,1912.6 361.5,1910.8 363.6,1909.1C365.6,1907.4 367.8,1905.7 369.9,1904.1C372.0,1902.4 374.2,1900.8 376.5,1899.3C378.7,1897.8 380.9,1896.3 383.2,1894.9C385.5,1893.5 387.8,1892.2 390.2,1890.9C392.5,1889.6 394.9,1888.3 397.3,1887.2C399.7,1886.0 402.2,1884.9 404.6,1883.8C407.1,1882.7 409.6,1881.7 412.0,1880.8C414.5,1879.8 417.0,1878.9 419.6,1878.0C422.1,1877.1 424.6,1876.3 427.2,1875.5C429.8,1874.7 432.3,1874.0 434.9,1873.3C437.5,1872.6 440.1,1871.9 442.7,1871.2C445.2,1870.5 447.9,1869.9 450.5,1869.3C453.1,1868.7 455.7,1868.1 458.3,1867.5C460.9,1866.9 463.5,1866.3 466.1,1865.8C468.7,1865.2 471.4,1864.7 474.0,1864.2C476.6,1863.7 479.2,1863.2 481.8,1862.7C484.5,1862.2 487.1,1861.7 489.7,1861.2C492.4,1860.8 495.0,1860.3 497.6,1859.9C500.3,1859.5 502.9,1859.1 505.5,1858.7C508.2,1858.2 510.8,1857.9 513.5,1857.5C516.1,1857.1 518.8,1856.7 521.4,1856.4C524.1,1856.0 526.7,1855.7 529.4,1855.3C532.0,1855.0 534.7,1854.7 537.3,1854.3C540.0,1854.0 542.6,1853.7 545.3,1853.4C547.9,1853.1 550.6,1852.8 553.2,1852.6C555.9,1852.3 558.6,1852.0 561.2,1851.7C563.9,1851.5 566.5,1851.2 569.2,1851.0C571.9,1850.7 574.5,1850.5 577.2,1850.2C579.8,1850.0 582.5,1849.8 585.2,1849.5C587.8,1849.3 590.5,1849.1 593.2,1848.8C595.8,1848.6 598.5,1848.4 601.1,1848.2C603.8,1847.9 606.5,1847.7 609.1,1847.5C611.8,1847.2 614.5,1847.0 617.1,1846.8C619.8,1846.6 622.4,1846.3 625.1,1846.1C627.8,1845.8 630.4,1845.6 633.1,1845.4C635.7,1845.1 638.4,1844.9 641.0,1844.6C643.7,1844.3 646.4,1844.1 649.0,1843.8C651.7,1843.5 654.3,1843.2 657.0,1842.9C659.6,1842.6 662.3,1842.3 664.9,1842.0C667.5,1841.7 670.2,1841.4 672.8,1841.0C675.5,1840.7 678.1,1840.4 680.8,1840.0C683.4,1839.7 686.1,1839.4 688.7,1839.0C691.3,1838.7 694.0,1838.4 696.6,1838.0C699.3,1837.7 701.9,1837.4 704.6,1837.1C707.3,1836.8 709.9,1836.5 712.6,1836.3C715.2,1836.0 717.9,1835.7 720.6,1835.5C723.3,1835.3 725.9,1835.1 728.6,1834.9C731.3,1834.7 734.0,1834.5 736.7,1834.3C739.4,1834.1 742.0,1833.9 744.7,1833.8C747.4,1833.6 750.1,1833.4 752.8,1833.2C755.5,1833.0 758.1,1832.8 760.8,1832.5C763.5,1832.3 766.2,1832.0 768.8,1831.8C771.5,1831.5 774.1,1831.2 776.8,1830.8C779.4,1830.5 782.1,1830.1 784.7,1829.7C787.3,1829.3 790.0,1828.9 792.6,1828.4C795.2,1827.9 797.8,1827.4 800.4,1826.8C803.0,1826.2 805.5,1825.5 808.1,1824.8C810.6,1824.2 813.2,1823.4 815.7,1822.6C818.3,1821.8 820.8,1821.0 823.3,1820.1C825.8,1819.3 828.3,1818.4 830.8,1817.4C833.3,1816.5 835.8,1815.5 838.2,1814.5C840.7,1813.5 843.1,1812.4 845.6,1811.3C848.0,1810.2 850.5,1809.1 852.9,1808.0C855.3,1806.9 857.8,1805.7 860.2,1804.5C862.6,1803.4 865.0,1802.2 867.4,1801.0C869.8,1799.7 872.2,1798.5 874.6,1797.3C876.9,1796.0 879.3,1794.8 881.7,1793.5C884.1,1792.2 886.4,1791.0 888.8,1789.7C891.1,1788.4 893.5,1787.1 895.8,1785.7C898.1,1784.4 900.4,1783.1 902.8,1781.7C905.1,1780.4 907.4,1779.0 909.6,1777.6C911.9,1776.2 914.2,1774.8 916.4,1773.4C918.7,1771.9 920.9,1770.5 923.2,1769.0C925.4,1767.5 927.6,1766.0 929.8,1764.5C932.0,1763.0 934.1,1761.5 936.3,1759.9C938.4,1758.3 940.5,1756.7 942.6,1755.1C944.8,1753.5 946.8,1751.8 948.9,1750.1C951.0,1748.5 953.0,1746.7 955.0,1745.0C957.0,1743.3 959.0,1741.5 961.0,1739.7C963.0,1738.0 965.0,1736.2 966.9,1734.3C968.9,1732.5 970.8,1730.7 972.8,1728.8C974.7,1727.0 976.6,1725.1 978.5,1723.3C980.4,1721.4 982.3,1719.5 984.2,1717.6C986.1,1715.7 988.0,1713.8 989.9,1711.9C991.8,1710.0 993.6,1708.1 995.5,1706.1C997.3,1704.2 999.1,1702.2 1001.0,1700.3C1002.8,1698.3 1004.6,1696.4 1006.4,1694.4C1008.2,1692.4 1010.0,1690.4 1011.7,1688.4C1013.5,1686.4 1015.2,1684.4 1017.0,1682.4C1018.7,1680.3 1020.5,1678.3 1022.2,1676.3C1023.9,1674.2 1025.6,1672.2 1027.3,1670.1C1029.0,1668.1 1030.7,1666.0 1032.4,1664.0C1034.1,1661.9 1035.8,1659.8 1037.5,1657.8C1039.2,1655.7 1040.8,1653.6 1042.5,1651.5C1044.2,1649.4 1045.9,1647.4 1047.5,1645.3C1049.2,1643.2 1050.9,1641.1 1052.6,1639.0C1054.2,1637.0 1055.9,1634.9 1057.6,1632.8C1059.3,1630.7 1060.9,1628.6 1062.6,1626.5C1064.3,1624.5 1066.0,1622.4 1067.7,1620.3C1069.4,1618.2 1071.1,1616.2 1072.8,1614.1C1074.5,1612.0 1076.2,1610.0 1077.9,1607.9C1079.6,1605.9 1081.3,1603.8 1083.0,1601.8C1084.7,1599.7 1086.5,1597.7 1088.2,1595.7C1090.0,1593.6 1091.7,1591.6 1093.5,1589.6C1095.2,1587.6 1097.0,1585.6 1098.8,1583.6C1100.6,1581.6 1102.3,1579.6 1104.2,1577.7C1106.0,1575.7 1107.8,1573.7 1109.6,1571.8C1111.4,1569.8 1113.3,1567.9 1115.2,1566.0C1117.0,1564.1 1118.9,1562.2 1120.8,1560.3C1122.7,1558.4 1124.6,1556.6 1126.5,1554.8C1128.5,1552.9 1130.4,1551.1 1132.4,1549.3C1134.4,1547.6 1136.4,1545.8 1138.4,1544.1C1140.4,1542.3 1142.5,1540.6 1144.5,1539.0C1146.6,1537.3 1148.7,1535.7 1150.8,1534.0C1152.9,1532.4 1155.1,1530.9 1157.2,1529.3C1159.4,1527.8 1161.6,1526.3 1163.8,1524.8C1166.1,1523.3 1168.3,1521.9 1170.6,1520.4C1172.9,1519.0 1175.2,1517.7 1177.5,1516.3C1179.9,1515.0 1182.2,1513.7 1184.6,1512.5C1187.0,1511.2 1189.5,1510.0 1191.9,1508.9C1194.4,1507.7 1196.9,1506.6 1199.4,1505.6C1201.9,1504.5 1204.4,1503.6 1207.0,1502.7C1209.5,1501.8 1212.1,1500.9 1214.7,1500.2C1217.3,1499.4 1219.9,1498.8 1222.5,1498.2C1225.1,1497.6 1227.7,1497.1 1230.3,1496.7C1233.0,1496.3 1235.6,1496.0 1238.3,1495.8C1240.9,1495.7 1243.6,1495.6 1246.2,1495.6C1248.9,1495.5 1251.5,1495.6 1254.2,1495.8C1256.8,1496.0 1259.5,1496.3 1262.1,1496.6C1264.8,1497.0 1267.4,1497.4 1270.0,1498.0C1272.6,1498.5 1275.2,1499.1 1277.8,1499.8C1280.3,1500.5 1282.9,1501.2 1285.4,1502.1C1288.0,1502.9 1290.5,1503.8 1293.0,1504.8C1295.4,1505.8 1297.9,1506.9 1300.3,1508.0C1302.7,1509.1 1305.1,1510.3 1307.4,1511.6C1309.8,1512.8 1312.1,1514.2 1314.4,1515.5C1316.7,1516.9 1319.0,1518.3 1321.2,1519.8C1323.4,1521.2 1325.7,1522.7 1327.9,1524.3C1330.1,1525.8 1332.2,1527.4 1334.4,1529.0C1336.6,1530.6 1338.7,1532.2 1340.8,1533.8C1343.0,1535.5 1345.1,1537.1 1347.2,1538.8C1349.3,1540.5 1351.4,1542.1 1353.5,1543.8C1355.6,1545.5 1357.7,1547.2 1359.8,1548.8C1361.9,1550.5 1364.0,1552.2 1366.1,1553.9C1368.2,1555.5 1370.2,1557.2 1372.3,1558.9C1374.4,1560.5 1376.5,1562.2 1378.6,1563.8C1380.7,1565.5 1382.8,1567.1 1384.9,1568.7C1387.0,1570.4 1389.1,1572.0 1391.2,1573.6C1393.4,1575.2 1395.5,1576.8 1397.6,1578.4C1399.8,1579.9 1401.9,1581.5 1404.1,1583.0C1406.3,1584.6 1408.5,1586.1 1410.7,1587.6C1412.9,1589.1 1415.1,1590.6 1417.3,1592.1C1419.5,1593.6 1421.8,1595.0 1424.0,1596.5C1426.3,1597.9 1428.5,1599.3 1430.8,1600.7C1433.0,1602.2 1435.3,1603.6 1437.6,1604.9C1439.9,1606.3 1442.2,1607.7 1444.5,1609.0C1446.8,1610.4 1449.1,1611.7 1451.5,1613.1C1453.8,1614.4 1456.1,1615.7 1458.4,1617.0C1460.8,1618.3 1463.1,1619.6 1465.5,1620.9C1467.8,1622.1 1470.2,1623.4 1472.6,1624.6C1474.9,1625.9 1477.3,1627.1 1479.7,1628.4C1482.1,1629.6 1484.4,1630.8 1486.8,1632.0C1489.2,1633.2 1491.6,1634.4 1494.0,1635.5C1496.4,1636.7 1498.9,1637.8 1501.3,1638.9C1503.7,1640.1 1506.1,1641.2 1508.6,1642.2C1511.0,1643.3 1513.5,1644.4 1515.9,1645.4C1518.4,1646.4 1520.9,1647.5 1523.3,1648.5C1525.8,1649.4 1528.3,1650.4 1530.8,1651.3C1533.3,1652.3 1535.8,1653.2 1538.3,1654.1C1540.8,1655.0 1543.4,1655.8 1545.9,1656.7C1548.4,1657.5 1551.0,1658.3 1553.5,1659.1C1556.1,1659.9 1558.6,1660.7 1561.2,1661.4C1563.7,1662.2 1566.3,1662.9 1568.9,1663.6C1571.5,1664.3 1574.1,1665.0 1576.7,1665.6C1579.2,1666.3 1581.8,1666.9 1584.4,1667.5C1587.0,1668.1 1589.7,1668.7 1592.3,1669.3C1594.9,1669.9 1597.5,1670.4 1600.1,1671.0C1602.7,1671.5 1605.4,1672.0 1608.0,1672.5C1610.6,1673.0 1613.3,1673.5 1615.9,1673.9C1618.6,1674.4 1621.2,1674.8 1623.8,1675.3C1626.5,1675.7 1629.1,1676.1 1631.8,1676.5C1634.4,1676.9 1637.1,1677.2 1639.7,1677.6C1642.4,1677.9 1645.0,1678.3 1647.7,1678.6C1650.4,1678.9 1653.0,1679.2 1655.7,1679.5C1658.3,1679.8 1661.0,1680.1 1663.7,1680.4C1666.3,1680.6 1669.0,1680.9 1671.6,1681.1C1674.3,1681.3 1677.0,1681.6 1679.6,1681.8C1682.3,1682.0 1684.9,1682.2 1687.6,1682.3C1690.3,1682.5 1692.9,1682.6 1695.6,1682.8C1698.3,1682.9 1700.9,1683.0 1703.6,1683.1C1706.3,1683.2 1708.9,1683.3 1711.6,1683.3C1714.3,1683.4 1716.9,1683.4 1719.6,1683.5C1722.3,1683.5 1724.9,1683.5 1727.6,1683.5C1730.3,1683.4 1732.9,1683.4 1735.6,1683.3C1738.3,1683.3 1740.9,1683.2 1743.6,1683.1C1746.3,1683.0 1749.0,1682.9 1751.6,1682.7C1754.3,1682.6 1757.0,1682.4 1759.6,1682.2C1762.3,1682.0 1765.0,1681.8 1767.7,1681.6C1770.3,1681.3 1774.4,1680.9 1775.7,1680.8L1775.7,1680.8C1775.5,1682.1 1774.8,1686.1 1774.4,1688.7C1774.1,1691.3 1773.7,1694.0 1773.4,1696.6C1773.1,1699.3 1772.8,1702.0 1772.5,1704.6C1772.2,1707.3 1771.9,1709.9 1771.6,1712.6C1771.3,1715.3 1771.0,1718.0 1770.7,1720.6C1770.4,1723.3 1770.1,1726.0 1769.8,1728.6C1769.4,1731.3 1769.1,1734.0 1768.7,1736.6C1768.3,1739.3 1767.9,1741.9 1767.4,1744.6C1766.9,1747.2 1766.4,1749.9 1765.8,1752.5C1765.2,1755.1 1764.6,1757.7 1763.9,1760.3C1763.2,1762.9 1762.5,1765.5 1761.7,1768.0C1760.9,1770.6 1760.0,1773.1 1759.1,1775.6C1758.2,1778.1 1757.2,1780.5 1756.1,1783.0C1755.0,1785.4 1753.9,1787.8 1752.7,1790.1C1751.5,1792.5 1750.2,1794.8 1748.8,1797.0C1747.4,1799.3 1745.9,1801.5 1744.4,1803.6C1742.8,1805.8 1741.2,1807.9 1739.5,1810.0C1737.7,1812.0 1736.0,1814.0 1734.1,1816.0C1732.2,1817.9 1730.3,1819.8 1728.3,1821.7C1726.4,1823.5 1724.3,1825.3 1722.2,1827.0C1720.1,1828.7 1718.0,1830.4 1715.8,1832.0C1713.6,1833.6 1711.4,1835.2 1709.1,1836.7C1706.8,1838.2 1704.5,1839.6 1702.2,1841.0C1699.9,1842.4 1697.5,1843.7 1695.1,1845.0C1692.7,1846.2 1690.3,1847.4 1687.9,1848.6C1685.5,1849.7 1683.1,1850.8 1680.6,1851.8C1678.1,1852.9 1675.7,1853.8 1673.2,1854.8C1670.7,1855.7 1668.2,1856.6 1665.7,1857.5C1663.1,1858.3 1660.6,1859.2 1658.0,1859.9C1655.5,1860.7 1652.9,1861.5 1650.4,1862.2C1647.8,1862.9 1645.2,1863.6 1642.6,1864.3C1640.1,1864.9 1637.5,1865.5 1634.9,1866.2C1632.3,1866.8 1629.7,1867.4 1627.1,1867.9C1624.5,1868.5 1621.8,1869.1 1619.2,1869.6C1616.6,1870.2 1614.0,1870.7 1611.4,1871.2C1608.8,1871.7 1606.1,1872.3 1603.5,1872.7C1600.9,1873.2 1598.3,1873.7 1595.6,1874.2C1593.0,1874.7 1590.4,1875.1 1587.7,1875.6C1585.1,1876.0 1582.5,1876.4 1579.8,1876.9C1577.2,1877.3 1574.5,1877.7 1571.9,1878.1C1569.3,1878.5 1566.6,1878.9 1564.0,1879.3C1561.3,1879.7 1558.7,1880.1 1556.0,1880.4C1553.4,1880.8 1550.7,1881.2 1548.1,1881.5C1545.4,1881.9 1542.8,1882.3 1540.1,1882.6C1537.5,1882.9 1534.8,1883.3 1532.1,1883.6C1529.5,1884.0 1526.8,1884.3 1524.2,1884.6C1521.5,1884.9 1518.8,1885.3 1516.2,1885.6C1513.5,1885.9 1510.9,1886.2 1508.2,1886.5C1505.5,1886.8 1502.9,1887.1 1500.2,1887.4C1497.6,1887.8 1494.9,1888.1 1492.2,1888.4C1489.6,1888.7 1486.9,1889.0 1484.2,1889.3C1481.6,1889.6 1478.9,1889.9 1476.2,1890.2C1473.6,1890.5 1470.9,1890.8 1468.3,1891.1C1465.6,1891.4 1462.9,1891.7 1460.3,1892.1C1457.6,1892.4 1455.0,1892.7 1452.3,1893.0C1449.6,1893.3 1447.0,1893.7 1444.3,1894.0C1441.7,1894.3 1439.0,1894.6 1436.3,1895.0C1433.7,1895.3 1431.0,1895.7 1428.4,1896.0C1425.7,1896.3 1423.1,1896.7 1420.4,1897.1C1417.8,1897.4 1415.1,1897.8 1412.5,1898.2C1409.8,1898.5 1407.2,1898.9 1404.5,1899.3C1401.9,1899.7 1399.2,1900.1 1396.6,1900.5C1394.0,1900.9 1391.3,1901.3 1388.7,1901.7C1386.0,1902.1 1383.4,1902.5 1380.8,1903.0C1378.1,1903.4 1375.5,1903.8 1372.8,1904.3C1370.2,1904.7 1367.6,1905.2 1364.9,1905.7C1362.3,1906.2 1359.7,1906.6 1357.1,1907.1C1354.4,1907.6 1351.8,1908.1 1349.2,1908.7C1346.6,1909.2 1343.9,1909.7 1341.3,1910.2C1338.7,1910.8 1336.1,1911.3 1333.5,1911.9C1330.9,1912.5 1328.3,1913.1 1325.6,1913.7C1323.0,1914.2 1320.4,1914.9 1317.8,1915.5C1315.2,1916.1 1312.6,1916.7 1310.0,1917.4C1307.4,1918.0 1304.8,1918.7 1302.2,1919.4C1299.6,1920.1 1297.0,1920.8 1294.4,1921.5C1291.9,1922.2 1289.3,1922.9 1286.7,1923.7C1284.2,1924.5 1281.6,1925.3 1279.0,1926.1C1276.5,1926.9 1274.0,1927.8 1271.4,1928.6C1268.9,1929.5 1266.4,1930.4 1263.9,1931.4C1261.4,1932.4 1259.0,1933.3 1256.5,1934.4C1254.1,1935.4 1251.6,1936.5 1249.2,1937.6C1246.8,1938.7 1244.4,1939.9 1242.1,1941.1C1239.7,1942.3 1237.4,1943.6 1235.1,1944.9C1232.8,1946.2 1230.5,1947.6 1228.3,1949.0C1226.0,1950.4 1223.8,1951.9 1221.6,1953.5C1219.4,1955.0 1217.3,1956.6 1215.2,1958.3C1213.1,1960.0 1211.0,1961.7 1209.0,1963.4C1206.9,1965.2 1204.9,1967.0 1202.9,1968.9C1201.0,1970.7 1199.0,1972.6 1197.1,1974.6C1195.2,1976.5 1193.4,1978.5 1191.5,1980.5C1189.7,1982.5 1187.9,1984.5 1186.1,1986.6C1184.4,1988.6 1182.7,1990.7 1181.0,1992.8C1179.3,1994.9 1177.7,1997.1 1176.1,1999.2C1174.4,2001.3 1172.9,2003.5 1171.3,2005.7C1169.8,2007.9 1168.3,2010.0 1166.8,2012.3C1165.3,2014.5 1163.8,2016.7 1162.4,2018.9C1161.0,2021.1 1159.5,2023.4 1158.1,2025.6C1156.7,2027.9 1155.4,2030.2 1154.0,2032.4C1152.6,2034.7 1151.3,2037.0 1149.9,2039.3C1148.6,2041.6 1147.3,2043.9 1146.0,2046.2C1144.6,2048.5 1143.3,2050.8 1142.0,2053.2C1140.7,2055.5 1139.4,2057.8 1138.1,2060.1C1136.8,2062.5 1135.5,2064.8 1134.2,2067.2C1133.0,2069.5 1131.7,2071.9 1130.4,2074.2C1129.1,2076.6 1127.9,2078.9 1126.6,2081.3C1125.4,2083.7 1124.1,2086.0 1122.9,2088.4C1121.6,2090.8 1120.4,2093.2 1119.2,2095.6C1118.0,2098.0 1116.7,2100.4 1115.5,2102.8C1114.3,2105.2 1113.1,2107.6 1112.0,2110.0C1110.8,2112.4 1109.6,2114.8 1108.5,2117.2C1107.3,2119.6 1106.1,2122.1 1105.0,2124.5C1103.9,2126.9 1102.7,2129.4 1101.6,2131.8C1100.5,2134.3 1099.4,2136.7 1098.3,2139.2C1097.2,2141.6 1096.2,2144.1 1095.1,2146.5C1094.1,2149.0 1093.0,2151.5 1092.0,2153.9C1090.9,2156.4 1089.9,2158.9 1088.9,2161.4C1087.9,2163.8 1086.9,2166.3 1086.0,2168.8C1085.0,2171.3 1084.0,2173.8 1083.1,2176.3C1082.2,2178.8 1081.2,2181.3 1080.3,2183.8C1079.4,2186.4 1078.6,2188.9 1077.7,2191.4C1076.8,2193.9 1076.0,2196.4 1075.1,2199.0C1074.3,2201.5 1073.5,2204.0 1072.7,2206.6C1071.9,2209.1 1071.1,2211.6 1070.3,2214.2C1069.5,2216.7 1068.7,2219.3 1067.9,2221.8C1067.1,2224.4 1066.3,2226.9 1065.4,2229.4C1064.6,2232.0 1063.7,2234.5 1062.9,2237.1C1062.0,2239.6 1061.2,2242.1 1060.3,2244.7C1059.4,2247.2 1058.5,2249.7 1057.7,2252.3C1056.8,2254.8 1055.9,2257.3 1055.0,2259.9C1054.2,2262.4 1053.3,2265.0 1052.5,2267.5C1051.6,2270.0 1050.8,2272.6 1050.0,2275.1C1049.1,2277.7 1048.3,2280.2 1047.5,2282.8C1046.7,2285.3 1045.9,2287.9 1045.1,2290.4C1044.3,2292.9 1043.4,2295.5 1042.6,2298.0C1041.8,2300.6 1041.0,2303.1 1040.2,2305.7C1039.4,2308.2 1038.6,2310.8 1037.8,2313.3C1036.9,2315.8 1036.1,2318.4 1035.3,2320.9C1034.5,2323.5 1033.6,2326.0 1032.8,2328.5C1031.9,2331.1 1031.1,2333.6 1030.2,2336.1C1029.4,2338.7 1028.5,2341.2 1027.7,2343.7C1026.8,2346.3 1025.9,2348.8 1025.1,2351.3C1024.2,2353.9 1023.3,2356.4 1022.4,2358.9C1021.5,2361.4 1020.6,2364.0 1019.8,2366.5C1018.9,2369.0 1018.0,2371.5 1017.1,2374.1C1016.2,2376.6 1015.3,2379.1 1014.4,2381.6C1013.4,2384.1 1012.5,2386.7 1011.6,2389.2C1010.7,2391.7 1009.8,2394.2 1008.9,2396.7C1008.0,2399.3 1007.1,2401.8 1006.1,2404.3C1005.2,2406.8 1004.3,2409.3 1003.4,2411.8C1002.4,2414.3 1001.5,2416.9 1000.6,2419.4C999.7,2421.9 998.7,2424.4 997.8,2426.9C996.9,2429.4 996.0,2431.9 995.0,2434.4C994.1,2437.0 993.2,2439.5 992.3,2442.0C991.3,2444.5 990.4,2447.0 989.5,2449.5C988.6,2452.0 987.6,2454.5 986.7,2457.0C985.8,2459.5 984.9,2462.0 984.0,2464.5C983.0,2467.1 982.1,2469.6 981.2,2472.1C980.3,2474.6 979.4,2477.1 978.4,2479.6C977.5,2482.1 976.6,2484.6 975.6,2487.1C974.7,2489.6 973.7,2492.0 972.7,2494.5C971.6,2497.0 970.6,2499.4 969.5,2501.9C968.4,2504.3 967.3,2506.7 966.2,2509.1C965.0,2511.6 963.8,2513.9 962.5,2516.3C961.2,2518.7 959.9,2521.0 958.5,2523.4C957.1,2525.7 955.6,2528.0 954.1,2530.2C952.5,2532.5 950.9,2534.7 949.1,2536.8C947.3,2538.8 945.4,2540.8 943.3,2542.5C941.1,2544.2 938.8,2545.8 936.3,2546.8C933.9,2547.7 931.3,2548.3 928.8,2548.1C926.2,2548.0 923.6,2546.9 921.2,2545.8C918.8,2544.6 916.4,2542.8 914.2,2541.1C912.1,2539.4 910.1,2537.5 908.1,2535.6C906.2,2533.6 904.5,2531.6 902.7,2529.6C901.0,2527.5 899.3,2525.4 897.7,2523.3C896.0,2521.2 894.4,2519.1 892.8,2516.9C891.2,2514.8 889.6,2512.6 888.1,2510.4C886.5,2508.3 885.0,2506.1 883.4,2503.9C881.9,2501.7 880.4,2499.5 878.9,2497.3C877.3,2495.1 875.8,2492.9 874.3,2490.7C872.8,2488.5 871.3,2486.3 869.8,2484.1C868.2,2481.9 866.7,2479.8 865.2,2477.6C863.6,2475.4 862.1,2473.2 860.5,2471.1C858.9,2468.9 857.3,2466.8 855.7,2464.6C854.1,2462.5 852.5,2460.3 850.9,2458.2C849.3,2456.1 847.6,2454.0 846.0,2451.8C844.4,2449.7 842.7,2447.6 841.1,2445.5C839.5,2443.4 837.8,2441.2 836.2,2439.1C834.6,2437.0 832.9,2434.9 831.3,2432.7C829.7,2430.6 828.1,2428.5 826.5,2426.3C824.9,2424.2 823.3,2422.0 821.7,2419.9C820.1,2417.7 818.5,2415.6 817.0,2413.4C815.4,2411.2 813.9,2409.0 812.4,2406.8C810.9,2404.6 809.4,2402.4 807.9,2400.1C806.5,2397.9 805.0,2395.7 803.6,2393.4C802.1,2391.2 800.7,2388.9 799.3,2386.6C797.9,2384.3 796.5,2382.1 795.1,2379.8C793.7,2377.5 792.4,2375.2 791.0,2372.9C789.7,2370.6 788.3,2368.2 787.0,2365.9C785.7,2363.6 784.4,2361.3 783.1,2358.9C781.8,2356.6 780.5,2354.2 779.2,2351.9C777.9,2349.5 776.7,2347.2 775.4,2344.8C774.1,2342.4 772.9,2340.1 771.6,2337.7C770.4,2335.3 769.2,2332.9 767.9,2330.6C766.7,2328.2 765.5,2325.8 764.3,2323.4C763.1,2321.0 761.9,2318.6 760.6,2316.2C759.4,2313.9 758.2,2311.5 757.0,2309.1C755.8,2306.7 754.6,2304.3 753.4,2301.9C752.2,2299.5 751.0,2297.1 749.8,2294.7C748.6,2292.3 747.5,2289.9 746.3,2287.5C745.1,2285.1 743.9,2282.7 742.6,2280.3C741.4,2277.9 740.2,2275.5 739.0,2273.2C737.8,2270.8 736.6,2268.4 735.4,2266.0C734.1,2263.6 732.9,2261.3 731.7,2258.9C730.4,2256.5 729.2,2254.1 727.9,2251.8C726.7,2249.4 725.4,2247.1 724.2,2244.7C722.9,2242.4 721.6,2240.0 720.3,2237.7C719.0,2235.4 717.7,2233.0 716.4,2230.7C715.1,2228.4 713.7,2226.1 712.4,2223.8C711.1,2221.4 709.7,2219.1 708.3,2216.9C706.9,2214.6 705.6,2212.3 704.1,2210.0C702.7,2207.7 701.3,2205.5 699.9,2203.2C698.4,2201.0 697.0,2198.7 695.5,2196.5C694.0,2194.3 692.5,2192.1 691.0,2189.9C689.5,2187.6 688.0,2185.5 686.5,2183.3C684.9,2181.1 683.4,2178.9 681.8,2176.7C680.2,2174.6 678.6,2172.4 677.0,2170.3C675.4,2168.1 673.8,2166.0 672.1,2163.9C670.5,2161.8 668.8,2159.7 667.1,2157.6C665.5,2155.5 663.8,2153.4 662.0,2151.4C660.3,2149.3 658.6,2147.3 656.8,2145.2C655.0,2143.2 653.3,2141.2 651.5,2139.2C649.6,2137.2 647.8,2135.3 646.0,2133.3C644.1,2131.4 642.2,2129.5 640.3,2127.6C638.4,2125.7 636.5,2123.9 634.5,2122.0C632.6,2120.2 630.6,2118.4 628.6,2116.7C626.6,2114.9 624.6,2113.2 622.5,2111.5C620.4,2109.8 618.3,2108.2 616.2,2106.6C614.1,2105.0 611.9,2103.4 609.7,2101.9C607.5,2100.3 605.3,2098.9 603.0,2097.4C600.8,2096.0 598.5,2094.6 596.1,2093.3C593.8,2092.0 591.5,2090.7 589.1,2089.5C586.7,2088.3 584.3,2087.2 581.8,2086.1C579.4,2085.0 576.9,2084.0 574.4,2083.1C571.8,2082.2 569.3,2081.3 566.7,2080.5C564.2,2079.8 561.6,2079.0 559.0,2078.4C556.4,2077.7 553.7,2077.1 551.1,2076.6C548.5,2076.0 545.8,2075.5 543.2,2075.0C540.5,2074.5 537.9,2074.0 535.2,2073.6C532.6,2073.1 529.9,2072.7 527.3,2072.3C524.6,2072.0 522.0,2071.6 519.3,2071.2C516.7,2070.9 514.0,2070.6 511.4,2070.3C508.7,2070.0 506.1,2069.7 503.4,2069.5C500.8,2069.2 498.1,2069.0 495.4,2068.8C492.8,2068.6 490.1,2068.4 487.5,2068.2C484.8,2068.0 482.2,2067.9 479.5,2067.7C476.8,2067.6 474.2,2067.5 471.5,2067.4C468.8,2067.3 466.2,2067.2 463.5,2067.2C460.8,2067.1 458.2,2067.1 455.5,2067.0C452.8,2067.0 450.1,2067.0 447.5,2067.0C444.8,2067.0 442.1,2067.0 439.4,2067.0C436.7,2067.1 434.1,2067.1 431.4,2067.2C428.7,2067.2 426.0,2067.3 423.3,2067.4C420.6,2067.4 417.9,2067.5 415.2,2067.6C412.5,2067.8 409.8,2067.9 407.1,2068.0C404.4,2068.2 401.7,2068.3 399.0,2068.5C396.3,2068.7 393.6,2068.9 391.0,2069.1C388.3,2069.3 385.6,2069.6 382.9,2069.8C380.2,2070.1 377.5,2070.4 374.9,2070.7C372.2,2071.0 369.5,2071.3 366.9,2071.7C364.2,2072.1 361.6,2072.5 358.9,2072.9C356.3,2073.3 353.7,2073.8 351.1,2074.2C348.4,2074.7 345.8,2075.2 343.2,2075.8C340.6,2076.3 338.1,2076.9 335.5,2077.6C332.9,2078.2 330.4,2078.8 327.8,2079.5C325.3,2080.2 322.8,2081.0 320.3,2081.7C317.8,2082.5 315.3,2083.3 312.8,2084.2C310.4,2085.0 307.6,2085.5 305.5,2086.9C303.4,2088.3 300.9,2091.7 300.0,2092.7" fill="none" stroke="#000" stroke-width="9" stroke-linejoin="round" stroke-linecap="round"/>
<path d="M300.5,2087.0C300.6,2085.7 300.9,2081.7 301.1,2079.1C301.3,2076.4 301.5,2073.8 301.7,2071.1C301.8,2068.5 302.0,2065.8 302.2,2063.2C302.3,2060.5 302.5,2057.8 302.6,2055.1C302.8,2052.5 302.9,2049.8 303.1,2047.1C303.3,2044.4 303.4,2041.7 303.6,2039.0C303.8,2036.4 304.0,2033.7 304.2,2031.0C304.4,2028.3 304.7,2025.6 304.9,2022.9C305.2,2020.2 305.5,2017.5 305.8,2014.9C306.1,2012.2 306.5,2009.5 306.9,2006.8C307.2,2004.2 307.7,2001.5 308.1,1998.9C308.6,1996.2 309.1,1993.6 309.7,1991.0C310.3,1988.4 310.9,1985.7 311.6,1983.2C312.3,1980.6 313.0,1978.0 313.9,1975.4C314.7,1972.9 315.6,1970.3 316.5,1967.8C317.5,1965.3 318.5,1962.8 319.5,1960.4C320.6,1957.9 321.8,1955.5 323.0,1953.1C324.2,1950.7 325.4,1948.3 326.7,1946.0C328.1,1943.7 329.5,1941.4 330.9,1939.1C332.3,1936.8 333.8,1934.6 335.4,1932.5C336.9,1930.3 338.6,1928.2 340.2,1926.1C341.9,1924.0 343.6,1922.0 345.4,1920.0C347.2,1918.0 349.0,1916.1 350.9,1914.2C352.7,1912.4 354.7,1910.5 356.7,1908.8C358.6,1907.0 360.7,1905.3 362.7,1903.7C364.8,1902.1 366.9,1900.5 369.1,1899.0C371.3,1897.5 373.5,1896.0 375.7,1894.6C378.0,1893.2 380.3,1891.9 382.6,1890.6C384.9,1889.3 387.2,1888.0 389.6,1886.8C392.0,1885.6 394.4,1884.5 396.9,1883.4C399.3,1882.2 401.8,1881.2 404.3,1880.2C406.8,1879.1 409.3,1878.2 411.8,1877.2C414.4,1876.3 416.9,1875.4 419.5,1874.5C422.1,1873.7 424.7,1872.8 427.3,1872.0C429.9,1871.2 432.5,1870.5 435.1,1869.8C437.7,1869.0 440.3,1868.3 443.0,1867.7C445.6,1867.0 448.3,1866.3 450.9,1865.7C453.5,1865.1 456.2,1864.5 458.8,1863.9C461.4,1863.4 464.1,1862.8 466.7,1862.3C469.3,1861.8 472.0,1861.3 474.6,1860.8C477.3,1860.3 479.9,1859.8 482.5,1859.4C485.2,1858.9 487.8,1858.5 490.4,1858.1C493.1,1857.6 495.7,1857.2 498.3,1856.8C501.0,1856.5 503.6,1856.1 506.3,1855.7C508.9,1855.4 511.5,1855.0 514.2,1854.7C516.8,1854.3 519.5,1854.0 522.1,1853.7C524.7,1853.4 527.4,1853.1 530.0,1852.8C532.7,1852.4 535.3,1852.2 538.0,1851.9C540.6,1851.6 543.3,1851.3 545.9,1851.0C548.6,1850.7 551.2,1850.4 553.9,1850.2C556.5,1849.9 559.2,1849.6 561.8,1849.4C564.5,1849.1 567.1,1848.8 569.8,1848.6C572.4,1848.3 575.1,1848.1 577.7,1847.8C580.4,1847.6 583.1,1847.3 585.7,1847.1C588.4,1846.8 591.0,1846.6 593.7,1846.3C596.4,1846.1 599.0,1845.9 601.7,1845.6C604.4,1845.4 607.0,1845.2 609.7,1844.9C612.3,1844.7 615.0,1844.5 617.7,1844.2C620.3,1844.0 623.0,1843.8 625.7,1843.5C628.3,1843.3 631.0,1843.1 633.7,1842.8C636.4,1842.6 639.0,1842.4 641.7,1842.2C644.4,1841.9 647.0,1841.7 649.7,1841.5C652.4,1841.3 655.0,1841.0 657.7,1840.8C660.4,1840.6 663.1,1840.3 665.7,1840.1C668.4,1839.9 671.1,1839.6 673.8,1839.4C676.4,1839.2 679.1,1838.9 681.8,1838.7C684.5,1838.4 687.1,1838.2 689.8,1838.0C692.5,1837.7 695.1,1837.5 697.8,1837.2C700.5,1837.0 703.2,1836.7 705.8,1836.5C708.5,1836.2 711.2,1835.9 713.9,1835.7C716.5,1835.4 719.2,1835.2 721.9,1834.9C724.6,1834.6 727.2,1834.3 729.9,1834.1C732.6,1833.8 735.3,1833.5 737.9,1833.2C740.6,1832.9 743.3,1832.6 745.9,1832.3C748.6,1832.0 751.3,1831.6 753.9,1831.3C756.6,1831.0 759.3,1830.6 761.9,1830.3C764.6,1829.9 767.2,1829.5 769.9,1829.1C772.5,1828.8 775.2,1828.4 777.8,1827.9C780.5,1827.5 783.1,1827.1 785.8,1826.6C788.4,1826.2 791.0,1825.7 793.7,1825.2C796.3,1824.8 798.9,1824.3 801.5,1823.7C804.1,1823.2 806.8,1822.7 809.4,1822.1C812.0,1821.5 814.6,1820.9 817.2,1820.3C819.8,1819.7 822.3,1819.1 824.9,1818.4C827.5,1817.7 830.1,1817.1 832.6,1816.3C835.2,1815.6 837.8,1814.9 840.3,1814.1C842.9,1813.4 845.4,1812.6 848.0,1811.7C850.5,1810.9 853.0,1810.0 855.5,1809.2C858.0,1808.3 860.6,1807.4 863.1,1806.4C865.6,1805.5 868.0,1804.5 870.5,1803.5C873.0,1802.5 875.5,1801.4 877.9,1800.4C880.4,1799.3 882.9,1798.2 885.3,1797.1C887.7,1796.0 890.2,1794.9 892.6,1793.7C895.0,1792.5 897.4,1791.4 899.8,1790.1C902.2,1788.9 904.6,1787.7 907.0,1786.4C909.3,1785.2 911.7,1783.9 914.0,1782.6C916.4,1781.3 918.7,1779.9 921.0,1778.6C923.4,1777.2 925.7,1775.9 928.0,1774.5C930.3,1773.1 932.6,1771.7 934.8,1770.2C937.1,1768.8 939.3,1767.3 941.6,1765.9C943.8,1764.4 946.1,1762.9 948.3,1761.4C950.5,1759.9 952.7,1758.4 954.9,1756.8C957.1,1755.3 959.2,1753.7 961.4,1752.2C963.5,1750.6 965.7,1749.0 967.8,1747.4C970.0,1745.8 972.1,1744.2 974.2,1742.6C976.3,1740.9 978.4,1739.3 980.5,1737.6C982.6,1736.0 984.7,1734.3 986.8,1732.7C988.9,1731.0 991.0,1729.3 993.0,1727.6C995.1,1726.0 997.2,1724.3 999.3,1722.6C1001.3,1720.9 1003.4,1719.2 1005.4,1717.5C1007.5,1715.7 1009.5,1714.0 1011.6,1712.3C1013.6,1710.6 1015.7,1708.9 1017.7,1707.2C1019.8,1705.4 1021.8,1703.7 1023.9,1702.0C1025.9,1700.3 1028.0,1698.5 1030.0,1696.8C1032.1,1695.1 1034.2,1693.4 1036.2,1691.7C1038.3,1689.9 1040.3,1688.2 1042.4,1686.5C1044.5,1684.8 1046.5,1683.1 1048.6,1681.4C1050.7,1679.6 1052.7,1677.9 1054.8,1676.2C1056.9,1674.5 1058.9,1672.8 1061.0,1671.1C1063.1,1669.4 1065.1,1667.6 1067.2,1665.9C1069.2,1664.2 1071.3,1662.5 1073.3,1660.8C1075.4,1659.0 1077.4,1657.3 1079.5,1655.6C1081.5,1653.8 1083.6,1652.1 1085.6,1650.4C1087.6,1648.6 1089.7,1646.9 1091.7,1645.2C1093.7,1643.5 1095.8,1641.7 1097.8,1640.0C1099.8,1638.3 1101.9,1636.6 1103.9,1634.9C1106.0,1633.2 1108.0,1631.5 1110.1,1629.9C1112.1,1628.2 1114.2,1626.5 1116.3,1624.9C1118.3,1623.2 1120.4,1621.6 1122.5,1620.0C1124.6,1618.4 1126.7,1616.8 1128.8,1615.2C1130.9,1613.6 1133.1,1612.0 1135.2,1610.5C1137.4,1608.9 1139.5,1607.4 1141.7,1605.9C1143.9,1604.4 1146.1,1602.9 1148.3,1601.4C1150.6,1599.9 1152.8,1598.4 1155.1,1597.0C1157.4,1595.6 1159.7,1594.2 1162.0,1592.8C1164.3,1591.4 1166.7,1590.0 1169.1,1588.7C1171.4,1587.4 1173.8,1586.1 1176.2,1584.8C1178.7,1583.6 1181.1,1582.3 1183.5,1581.1C1186.0,1580.0 1188.5,1578.8 1191.0,1577.7C1193.4,1576.6 1195.9,1575.5 1198.5,1574.5C1201.0,1573.5 1203.5,1572.6 1206.0,1571.7C1208.6,1570.7 1211.1,1569.9 1213.7,1569.1C1216.3,1568.3 1218.9,1567.5 1221.4,1566.9C1224.0,1566.2 1226.6,1565.6 1229.2,1565.0C1231.8,1564.5 1234.4,1564.0 1237.1,1563.6C1239.7,1563.1 1242.3,1562.8 1244.9,1562.5C1247.6,1562.3 1250.2,1562.1 1252.8,1561.9C1255.5,1561.8 1258.1,1561.8 1260.7,1561.8C1263.4,1561.9 1266.0,1562.0 1268.6,1562.2C1271.3,1562.4 1273.9,1562.6 1276.5,1563.0C1279.2,1563.3 1281.8,1563.7 1284.4,1564.2C1287.0,1564.7 1289.6,1565.2 1292.3,1565.8C1294.9,1566.4 1297.5,1567.0 1300.1,1567.7C1302.7,1568.4 1305.2,1569.2 1307.8,1570.0C1310.4,1570.8 1312.9,1571.6 1315.5,1572.5C1318.0,1573.4 1320.6,1574.4 1323.1,1575.3C1325.6,1576.3 1328.1,1577.3 1330.6,1578.3C1333.1,1579.4 1335.6,1580.4 1338.1,1581.5C1340.5,1582.6 1343.0,1583.7 1345.4,1584.9C1347.8,1586.0 1350.2,1587.2 1352.6,1588.3C1355.1,1589.5 1357.5,1590.7 1359.8,1591.9C1362.2,1593.1 1364.6,1594.3 1367.0,1595.5C1369.4,1596.8 1371.8,1598.0 1374.1,1599.2C1376.5,1600.5 1378.9,1601.7 1381.3,1602.9C1383.6,1604.1 1386.0,1605.4 1388.4,1606.6C1390.8,1607.8 1393.2,1609.0 1395.5,1610.2C1397.9,1611.4 1400.3,1612.6 1402.7,1613.8C1405.1,1615.0 1407.5,1616.2 1409.9,1617.4C1412.3,1618.6 1414.7,1619.8 1417.1,1620.9C1419.6,1622.1 1422.0,1623.2 1424.4,1624.4C1426.8,1625.5 1429.2,1626.6 1431.7,1627.8C1434.1,1628.9 1436.5,1630.0 1439.0,1631.1C1441.4,1632.2 1443.9,1633.3 1446.3,1634.3C1448.8,1635.4 1451.2,1636.5 1453.7,1637.5C1456.2,1638.5 1458.6,1639.6 1461.1,1640.6C1463.6,1641.6 1466.1,1642.6 1468.5,1643.6C1471.0,1644.6 1473.5,1645.5 1476.0,1646.5C1478.5,1647.4 1481.0,1648.3 1483.5,1649.3C1486.0,1650.2 1488.6,1651.1 1491.1,1651.9C1493.6,1652.8 1496.1,1653.7 1498.7,1654.5C1501.2,1655.3 1503.8,1656.1 1506.3,1656.9C1508.9,1657.7 1511.4,1658.5 1514.0,1659.2C1516.6,1660.0 1519.1,1660.7 1521.7,1661.4C1524.3,1662.2 1526.9,1662.9 1529.5,1663.5C1532.1,1664.2 1534.7,1664.9 1537.3,1665.5C1539.9,1666.2 1542.5,1666.8 1545.1,1667.5C1547.7,1668.1 1550.3,1668.7 1552.9,1669.3C1555.5,1669.9 1558.1,1670.5 1560.8,1671.1C1563.4,1671.6 1566.0,1672.2 1568.6,1672.8C1571.3,1673.3 1573.9,1673.9 1576.5,1674.4C1579.1,1675.0 1581.8,1675.5 1584.4,1676.1C1587.0,1676.6 1589.7,1677.1 1592.3,1677.6C1594.9,1678.2 1597.6,1678.7 1600.2,1679.2C1602.8,1679.7 1605.4,1680.2 1608.1,1680.7C1610.7,1681.2 1613.3,1681.7 1616.0,1682.2C1618.6,1682.7 1621.2,1683.2 1623.9,1683.6C1626.5,1684.1 1629.2,1684.6 1631.8,1685.0C1634.4,1685.4 1637.1,1685.9 1639.7,1686.3C1642.3,1686.7 1645.0,1687.1 1647.6,1687.4C1650.3,1687.8 1652.9,1688.2 1655.6,1688.5C1658.2,1688.8 1660.9,1689.2 1663.5,1689.5C1666.2,1689.8 1668.8,1690.0 1671.5,1690.3C1674.2,1690.5 1676.8,1690.8 1679.5,1691.0C1682.2,1691.2 1684.8,1691.3 1687.5,1691.5C1690.2,1691.6 1692.9,1691.7 1695.5,1691.8C1698.2,1691.9 1700.9,1692.0 1703.6,1692.1C1706.3,1692.1 1708.9,1692.1 1711.6,1692.1C1714.3,1692.1 1717.0,1692.1 1719.7,1692.0C1722.4,1692.0 1725.0,1691.9 1727.7,1691.8C1730.4,1691.7 1733.1,1691.6 1735.8,1691.4C1738.4,1691.3 1741.1,1691.1 1743.8,1690.9C1746.5,1690.7 1749.1,1690.5 1751.8,1690.3C1754.5,1690.0 1757.1,1689.8 1759.8,1689.5C1762.5,1689.2 1765.1,1688.9 1767.8,1688.6C1770.4,1688.2 1774.4,1687.7 1775.7,1687.5L1775.7,1687.5C1775.7,1688.8 1775.8,1692.8 1775.8,1695.5C1775.8,1698.2 1775.8,1700.8 1775.7,1703.5C1775.7,1706.2 1775.7,1708.9 1775.6,1711.5C1775.5,1714.2 1775.4,1716.9 1775.3,1719.5C1775.2,1722.2 1775.0,1724.9 1774.8,1727.5C1774.6,1730.2 1774.4,1732.8 1774.1,1735.5C1773.8,1738.1 1773.5,1740.8 1773.2,1743.4C1772.8,1746.0 1772.4,1748.7 1771.9,1751.3C1771.4,1753.9 1770.9,1756.5 1770.3,1759.1C1769.7,1761.8 1769.1,1764.3 1768.4,1766.9C1767.7,1769.5 1766.9,1772.1 1766.1,1774.7C1765.2,1777.2 1764.3,1779.8 1763.3,1782.3C1762.3,1784.8 1761.3,1787.3 1760.1,1789.7C1759.0,1792.1 1757.8,1794.6 1756.5,1796.9C1755.3,1799.3 1753.9,1801.6 1752.5,1803.9C1751.1,1806.1 1749.6,1808.3 1748.0,1810.5C1746.4,1812.6 1744.8,1814.7 1743.0,1816.7C1741.3,1818.7 1739.5,1820.6 1737.6,1822.5C1735.7,1824.3 1733.7,1826.1 1731.7,1827.8C1729.7,1829.5 1727.6,1831.2 1725.5,1832.8C1723.3,1834.3 1721.1,1835.9 1718.9,1837.3C1716.6,1838.8 1714.4,1840.2 1712.0,1841.5C1709.7,1842.9 1707.3,1844.2 1705.0,1845.4C1702.6,1846.7 1700.2,1847.9 1697.7,1849.0C1695.3,1850.1 1692.8,1851.2 1690.4,1852.3C1687.9,1853.3 1685.4,1854.3 1682.9,1855.3C1680.4,1856.3 1677.9,1857.2 1675.4,1858.1C1672.9,1859.0 1670.3,1859.8 1667.8,1860.7C1665.3,1861.5 1662.7,1862.3 1660.2,1863.0C1657.6,1863.8 1655.1,1864.5 1652.5,1865.2C1649.9,1865.9 1647.3,1866.6 1644.8,1867.3C1642.2,1867.9 1639.6,1868.6 1637.0,1869.2C1634.4,1869.8 1631.8,1870.4 1629.2,1871.0C1626.6,1871.6 1624.0,1872.1 1621.4,1872.7C1618.8,1873.2 1616.2,1873.8 1613.6,1874.3C1610.9,1874.8 1608.3,1875.4 1605.7,1875.9C1603.1,1876.4 1600.5,1876.9 1597.8,1877.4C1595.2,1877.9 1592.6,1878.4 1590.0,1878.9C1587.4,1879.4 1584.7,1879.9 1582.1,1880.3C1579.5,1880.8 1576.8,1881.3 1574.2,1881.7C1571.6,1882.2 1569.0,1882.6 1566.3,1883.1C1563.7,1883.5 1561.1,1884.0 1558.4,1884.4C1555.8,1884.8 1553.2,1885.3 1550.5,1885.7C1547.9,1886.1 1545.2,1886.5 1542.6,1886.9C1540.0,1887.4 1537.3,1887.8 1534.7,1888.2C1532.0,1888.6 1529.4,1889.0 1526.8,1889.4C1524.1,1889.7 1521.5,1890.1 1518.8,1890.5C1516.2,1890.9 1513.5,1891.3 1510.9,1891.7C1508.3,1892.0 1505.6,1892.4 1503.0,1892.8C1500.3,1893.1 1497.7,1893.5 1495.0,1893.9C1492.4,1894.2 1489.7,1894.6 1487.1,1894.9C1484.4,1895.3 1481.8,1895.7 1479.2,1896.0C1476.5,1896.4 1473.9,1896.7 1471.2,1897.1C1468.6,1897.4 1465.9,1897.7 1463.3,1898.1C1460.6,1898.4 1458.0,1898.8 1455.3,1899.1C1452.7,1899.5 1450.0,1899.8 1447.4,1900.1C1444.8,1900.5 1442.1,1900.8 1439.5,1901.2C1436.8,1901.5 1434.2,1901.8 1431.5,1902.2C1428.9,1902.5 1426.3,1902.9 1423.6,1903.2C1421.0,1903.6 1418.3,1903.9 1415.7,1904.3C1413.1,1904.6 1410.4,1905.0 1407.8,1905.3C1405.1,1905.7 1402.5,1906.1 1399.9,1906.4C1397.2,1906.8 1394.6,1907.2 1392.0,1907.6C1389.3,1908.0 1386.7,1908.3 1384.0,1908.7C1381.4,1909.1 1378.8,1909.6 1376.2,1910.0C1373.5,1910.4 1370.9,1910.8 1368.3,1911.2C1365.6,1911.7 1363.0,1912.1 1360.4,1912.6C1357.8,1913.0 1355.1,1913.5 1352.5,1914.0C1349.9,1914.5 1347.3,1914.9 1344.7,1915.5C1342.0,1916.0 1339.4,1916.5 1336.8,1917.0C1334.2,1917.5 1331.6,1918.1 1329.0,1918.6C1326.3,1919.2 1323.7,1919.8 1321.1,1920.4C1318.5,1921.0 1315.9,1921.6 1313.3,1922.2C1310.7,1922.8 1308.1,1923.4 1305.5,1924.1C1302.9,1924.8 1300.3,1925.4 1297.7,1926.1C1295.1,1926.8 1292.5,1927.6 1289.9,1928.3C1287.3,1929.0 1284.8,1929.8 1282.2,1930.6C1279.6,1931.4 1277.1,1932.2 1274.5,1933.0C1272.0,1933.9 1269.4,1934.7 1266.9,1935.6C1264.4,1936.5 1261.8,1937.4 1259.3,1938.4C1256.8,1939.3 1254.4,1940.3 1251.9,1941.3C1249.4,1942.3 1247.0,1943.4 1244.5,1944.5C1242.1,1945.6 1239.7,1946.7 1237.3,1947.8C1234.9,1949.0 1232.6,1950.2 1230.2,1951.4C1227.9,1952.6 1225.5,1953.9 1223.3,1955.2C1221.0,1956.5 1218.7,1957.8 1216.5,1959.2C1214.2,1960.6 1212.0,1962.0 1209.8,1963.5C1207.6,1965.0 1205.5,1966.5 1203.4,1968.1C1201.2,1969.6 1199.2,1971.2 1197.1,1972.9C1195.0,1974.6 1193.0,1976.3 1191.0,1978.0C1189.0,1979.8 1187.1,1981.5 1185.2,1983.4C1183.2,1985.2 1181.3,1987.1 1179.5,1989.0C1177.6,1990.9 1175.7,1992.8 1173.9,1994.8C1172.1,1996.7 1170.3,1998.7 1168.6,2000.8C1166.8,2002.8 1165.1,2004.8 1163.4,2006.9C1161.7,2009.0 1160.0,2011.1 1158.4,2013.3C1156.7,2015.4 1155.1,2017.5 1153.5,2019.7C1151.9,2021.9 1150.3,2024.1 1148.8,2026.3C1147.2,2028.5 1145.7,2030.8 1144.2,2033.0C1142.7,2035.3 1141.2,2037.5 1139.7,2039.8C1138.3,2042.1 1136.8,2044.4 1135.4,2046.6C1134.0,2048.9 1132.6,2051.2 1131.2,2053.5C1129.9,2055.9 1128.5,2058.2 1127.2,2060.5C1125.8,2062.8 1124.5,2065.1 1123.2,2067.5C1121.9,2069.8 1120.6,2072.2 1119.4,2074.5C1118.1,2076.9 1116.9,2079.2 1115.6,2081.6C1114.4,2083.9 1113.2,2086.3 1112.0,2088.7C1110.8,2091.1 1109.6,2093.4 1108.4,2095.8C1107.3,2098.2 1106.1,2100.6 1105.0,2103.0C1103.8,2105.4 1102.7,2107.8 1101.6,2110.2C1100.5,2112.6 1099.4,2115.1 1098.3,2117.5C1097.2,2119.9 1096.2,2122.3 1095.1,2124.8C1094.0,2127.2 1093.0,2129.6 1092.0,2132.1C1090.9,2134.5 1089.9,2137.0 1088.9,2139.4C1087.8,2141.9 1086.8,2144.3 1085.8,2146.8C1084.8,2149.2 1083.9,2151.7 1082.9,2154.2C1081.9,2156.6 1080.9,2159.1 1079.9,2161.6C1079.0,2164.1 1078.0,2166.5 1077.1,2169.0C1076.1,2171.5 1075.2,2174.0 1074.2,2176.5C1073.3,2179.0 1072.3,2181.5 1071.4,2183.9C1070.5,2186.4 1069.6,2188.9 1068.6,2191.4C1067.7,2193.9 1066.8,2196.4 1065.9,2198.9C1065.0,2201.5 1064.1,2204.0 1063.1,2206.5C1062.2,2209.0 1061.3,2211.5 1060.4,2214.0C1059.5,2216.5 1058.6,2219.0 1057.7,2221.6C1056.8,2224.1 1056.0,2226.6 1055.1,2229.1C1054.2,2231.6 1053.3,2234.2 1052.4,2236.7C1051.5,2239.2 1050.6,2241.7 1049.8,2244.3C1048.9,2246.8 1048.0,2249.3 1047.1,2251.8C1046.3,2254.4 1045.4,2256.9 1044.5,2259.4C1043.6,2262.0 1042.8,2264.5 1041.9,2267.0C1041.0,2269.5 1040.1,2272.1 1039.3,2274.6C1038.4,2277.1 1037.5,2279.7 1036.7,2282.2C1035.8,2284.7 1034.9,2287.3 1034.1,2289.8C1033.2,2292.3 1032.3,2294.9 1031.5,2297.4C1030.6,2299.9 1029.7,2302.4 1028.8,2305.0C1028.0,2307.5 1027.1,2310.0 1026.2,2312.6C1025.4,2315.1 1024.5,2317.6 1023.6,2320.1C1022.7,2322.7 1021.9,2325.2 1021.0,2327.7C1020.1,2330.2 1019.2,2332.8 1018.3,2335.3C1017.4,2337.8 1016.6,2340.3 1015.7,2342.8C1014.8,2345.4 1013.9,2347.9 1013.0,2350.4C1012.1,2352.9 1011.2,2355.4 1010.3,2357.9C1009.4,2360.4 1008.5,2362.9 1007.6,2365.4C1006.7,2367.9 1005.8,2370.5 1004.9,2373.0C1004.0,2375.5 1003.1,2378.0 1002.1,2380.5C1001.2,2383.0 1000.3,2385.4 999.4,2387.9C998.4,2390.4 997.5,2392.9 996.6,2395.4C995.6,2397.9 994.7,2400.4 993.7,2402.9C992.8,2405.4 991.8,2407.8 990.9,2410.3C989.9,2412.8 988.9,2415.3 988.0,2417.8C987.0,2420.2 986.0,2422.7 985.0,2425.2C984.0,2427.6 983.1,2430.1 982.1,2432.6C981.1,2435.0 980.1,2437.5 979.0,2439.9C978.0,2442.4 977.0,2444.8 975.9,2447.3C974.8,2449.7 973.7,2452.1 972.5,2454.5C971.4,2456.9 970.2,2459.3 968.9,2461.6C967.7,2464.0 966.4,2466.3 965.0,2468.6C963.6,2470.9 962.2,2473.2 960.6,2475.5C959.1,2477.7 957.5,2479.9 955.8,2482.1C954.1,2484.3 952.3,2486.4 950.4,2488.5C948.5,2490.6 946.5,2492.8 944.4,2494.7C942.4,2496.6 940.2,2498.5 937.9,2500.0C935.7,2501.5 933.4,2502.9 931.1,2503.8C928.8,2504.6 926.4,2505.2 924.1,2505.1C921.8,2505.0 919.5,2504.4 917.2,2503.4C914.9,2502.4 912.7,2500.8 910.5,2499.1C908.3,2497.4 906.2,2495.3 904.2,2493.2C902.2,2491.1 900.2,2488.8 898.4,2486.5C896.6,2484.3 894.9,2482.1 893.3,2479.8C891.7,2477.6 890.2,2475.5 888.7,2473.3C887.2,2471.1 885.9,2468.9 884.5,2466.7C883.1,2464.5 881.7,2462.4 880.3,2460.2C878.9,2458.0 877.5,2455.7 876.1,2453.5C874.7,2451.3 873.2,2449.1 871.8,2446.8C870.4,2444.6 868.9,2442.3 867.5,2440.1C866.0,2437.9 864.6,2435.6 863.1,2433.4C861.7,2431.1 860.2,2428.9 858.7,2426.6C857.3,2424.4 855.8,2422.2 854.3,2419.9C852.9,2417.7 851.4,2415.5 849.9,2413.2C848.5,2411.0 847.0,2408.8 845.5,2406.5C844.0,2404.3 842.6,2402.1 841.1,2399.8C839.6,2397.6 838.1,2395.4 836.7,2393.2C835.2,2390.9 833.7,2388.7 832.3,2386.5C830.8,2384.2 829.3,2382.0 827.9,2379.8C826.4,2377.5 824.9,2375.3 823.5,2373.1C822.0,2370.8 820.6,2368.6 819.1,2366.4C817.7,2364.1 816.2,2361.9 814.8,2359.6C813.3,2357.4 811.9,2355.2 810.5,2352.9C809.0,2350.7 807.6,2348.4 806.1,2346.2C804.7,2343.9 803.3,2341.7 801.9,2339.4C800.4,2337.2 799.0,2334.9 797.6,2332.7C796.2,2330.4 794.8,2328.1 793.4,2325.9C791.9,2323.6 790.5,2321.4 789.1,2319.1C787.7,2316.8 786.3,2314.6 784.9,2312.3C783.5,2310.0 782.2,2307.7 780.8,2305.5C779.4,2303.2 778.0,2300.9 776.6,2298.6C775.3,2296.3 773.9,2294.0 772.5,2291.7C771.2,2289.5 769.8,2287.2 768.5,2284.9C767.1,2282.6 765.8,2280.3 764.4,2277.9C763.1,2275.6 761.7,2273.3 760.4,2271.0C759.0,2268.7 757.7,2266.4 756.4,2264.1C755.1,2261.8 753.7,2259.4 752.4,2257.1C751.1,2254.8 749.7,2252.5 748.4,2250.2C747.1,2247.8 745.8,2245.5 744.4,2243.2C743.1,2240.9 741.8,2238.6 740.5,2236.2C739.1,2233.9 737.8,2231.6 736.5,2229.3C735.1,2227.0 733.8,2224.7 732.5,2222.4C731.1,2220.0 729.8,2217.7 728.4,2215.4C727.1,2213.1 725.7,2210.8 724.4,2208.5C723.0,2206.2 721.6,2204.0 720.2,2201.7C718.9,2199.4 717.5,2197.1 716.1,2194.8C714.7,2192.6 713.3,2190.3 711.9,2188.0C710.5,2185.8 709.1,2183.5 707.6,2181.3C706.2,2179.1 704.7,2176.8 703.3,2174.6C701.8,2172.4 700.3,2170.2 698.8,2168.0C697.3,2165.8 695.7,2163.7 694.2,2161.5C692.6,2159.4 691.0,2157.2 689.4,2155.1C687.8,2153.0 686.2,2150.9 684.5,2148.8C682.8,2146.8 681.1,2144.7 679.4,2142.7C677.6,2140.6 675.9,2138.6 674.0,2136.7C672.2,2134.7 670.4,2132.7 668.5,2130.8C666.6,2128.9 664.7,2127.0 662.7,2125.1C660.8,2123.3 658.8,2121.5 656.7,2119.7C654.7,2117.9 652.7,2116.1 650.6,2114.4C648.5,2112.7 646.4,2111.1 644.2,2109.4C642.1,2107.8 639.9,2106.2 637.7,2104.7C635.5,2103.1 633.2,2101.6 631.0,2100.2C628.7,2098.8 626.4,2097.4 624.1,2096.0C621.8,2094.7 619.5,2093.4 617.1,2092.2C614.7,2091.0 612.4,2089.8 610.0,2088.7C607.5,2087.6 605.1,2086.5 602.7,2085.5C600.2,2084.5 597.8,2083.6 595.3,2082.7C592.8,2081.8 590.3,2081.0 587.7,2080.2C585.2,2079.5 582.7,2078.7 580.1,2078.0C577.6,2077.3 575.0,2076.7 572.4,2076.1C569.9,2075.5 567.3,2074.9 564.7,2074.3C562.1,2073.8 559.5,2073.3 556.9,2072.8C554.2,2072.3 551.6,2071.8 549.0,2071.4C546.4,2070.9 543.7,2070.5 541.1,2070.1C538.4,2069.6 535.8,2069.2 533.1,2068.9C530.5,2068.5 527.9,2068.1 525.2,2067.7C522.5,2067.4 519.9,2067.0 517.2,2066.7C514.6,2066.4 511.9,2066.0 509.3,2065.7C506.6,2065.4 503.9,2065.2 501.3,2064.9C498.6,2064.6 495.9,2064.4 493.3,2064.1C490.6,2063.9 487.9,2063.7 485.3,2063.5C482.6,2063.3 479.9,2063.1 477.2,2062.9C474.6,2062.8 471.9,2062.6 469.2,2062.5C466.6,2062.4 463.9,2062.3 461.2,2062.2C458.5,2062.1 455.9,2062.0 453.2,2062.0C450.5,2061.9 447.9,2061.9 445.2,2061.9C442.5,2061.9 439.9,2061.9 437.2,2061.9C434.5,2061.9 431.9,2062.0 429.2,2062.1C426.5,2062.2 423.9,2062.3 421.2,2062.4C418.6,2062.5 415.9,2062.6 413.3,2062.8C410.6,2063.0 408.0,2063.2 405.3,2063.4C402.7,2063.6 400.0,2063.8 397.4,2064.1C394.7,2064.4 392.1,2064.7 389.5,2065.0C386.8,2065.3 384.2,2065.6 381.6,2066.0C378.9,2066.3 376.3,2066.7 373.7,2067.1C371.1,2067.5 368.4,2067.9 365.8,2068.3C363.1,2068.7 360.5,2069.1 357.8,2069.5C355.2,2069.9 352.5,2070.3 349.8,2070.7C347.1,2071.0 344.5,2071.4 341.7,2071.8C339.0,2072.1 336.3,2072.5 333.6,2072.8C330.8,2073.1 328.0,2073.3 325.3,2073.6C322.5,2073.9 319.6,2074.0 317.0,2074.4C314.3,2074.9 311.6,2075.2 309.4,2076.2C307.2,2077.1 305.1,2078.1 303.6,2080.0C302.1,2081.8 301.0,2085.8 300.5,2087.0" fill="none" stroke="#f00" stroke-width="9" stroke-linejoin="round" stroke-linecap="round"/>
</svg></body></html>
